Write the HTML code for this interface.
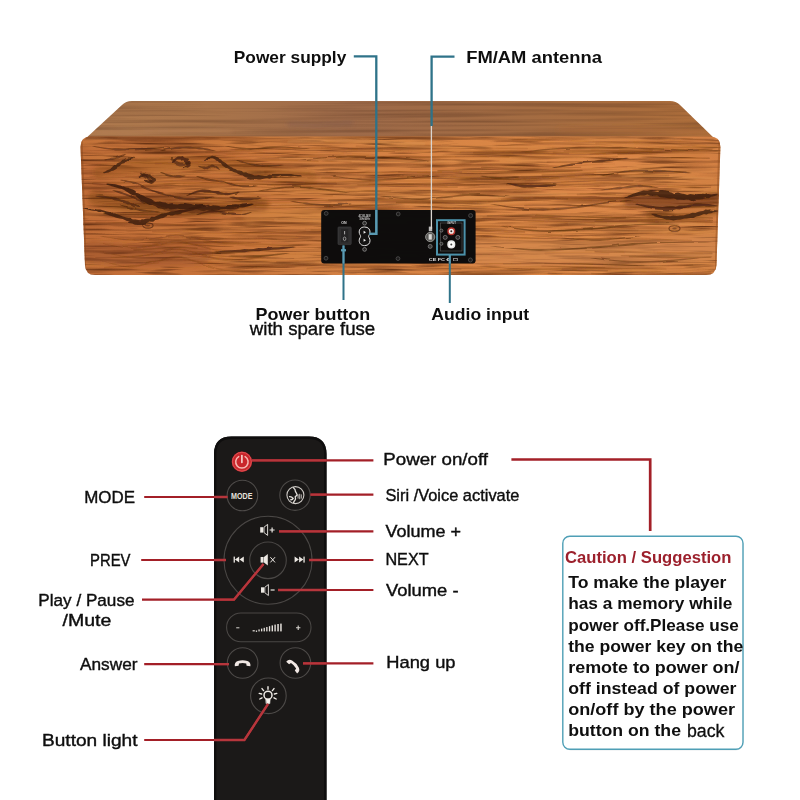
<!DOCTYPE html>
<html lang="en">
<head>
<meta charset="utf-8">
<title>Speaker back panel and remote control guide</title>
<style>
  html, body { margin: 0; padding: 0; background: #ffffff; }
  body { width: 800px; height: 800px; overflow: hidden; }
  svg { display: block; }
  text { font-family: "Liberation Sans", sans-serif; fill: #0e0e0e; }
  #remotelabels text { stroke: #0e0e0e; stroke-width: 0.4px; }
  .b { font-weight: bold; }
  .teal { stroke: #2f7389; fill: none; }
  .red { stroke: #a31f27; fill: none; }
</style>
</head>
<body>
<svg width="800" height="800" viewBox="0 0 800 800">
  <defs>
    <!-- WOOD-DEFS -->
    <linearGradient id="frontGrad" x1="0" y1="0" x2="1" y2="0">
      <stop offset="0" stop-color="#c06c37"/>
      <stop offset="0.2" stop-color="#c67239"/>
      <stop offset="0.36" stop-color="#d07e42"/>
      <stop offset="0.62" stop-color="#da8646"/>
      <stop offset="0.85" stop-color="#dc8849"/>
      <stop offset="1" stop-color="#d27f43"/>
    </linearGradient>
    <linearGradient id="topGrad" x1="0" y1="0" x2="1" y2="0">
      <stop offset="0" stop-color="#af7a4e"/>
      <stop offset="0.2" stop-color="#a9744a"/>
      <stop offset="0.42" stop-color="#9d6a49"/>
      <stop offset="0.7" stop-color="#a46c42"/>
      <stop offset="1" stop-color="#ae6e3a"/>
    </linearGradient>
    <filter id="grainFine" x="0" y="0" width="100%" height="100%" color-interpolation-filters="sRGB">
      <feTurbulence type="fractalNoise" baseFrequency="0.009 0.22" numOctaves="3" seed="11" result="n"/>
      <feColorMatrix in="n" type="matrix" values="0 0 0 0 0.38  0 0 0 0 0.18  0 0 0 0 0.07  1.6 0 0 0 -0.74" result="g"/>
      <feComposite in="g" in2="SourceGraphic" operator="in"/>
    </filter>
    <filter id="grainLight" x="0" y="0" width="100%" height="100%" color-interpolation-filters="sRGB">
      <feTurbulence type="fractalNoise" baseFrequency="0.008 0.06" numOctaves="2" seed="23" result="n"/>
      <feColorMatrix in="n" type="matrix" values="0 0 0 0 0.82  0 0 0 0 0.54  0 0 0 0 0.26  0 0.9 0 0 -0.38" result="g"/>
      <feComposite in="g" in2="SourceGraphic" operator="in"/>
    </filter>
    <filter id="grainStreak" x="0" y="0" width="100%" height="100%" color-interpolation-filters="sRGB">
      <feTurbulence type="fractalNoise" baseFrequency="0.022 0.42" numOctaves="2" seed="31" result="n"/>
      <feColorMatrix in="n" type="matrix" values="0 0 0 0 0.33  0 0 0 0 0.15  0 0 0 0 0.05  2.3 0 0 0 -1.24" result="g"/>
      <feComposite in="g" in2="SourceGraphic" operator="in"/>
    </filter>
    <filter id="grainTop" x="0" y="0" width="100%" height="100%" color-interpolation-filters="sRGB">
      <feTurbulence type="fractalNoise" baseFrequency="0.006 0.3" numOctaves="2" seed="5" result="n"/>
      <feColorMatrix in="n" type="matrix" values="0 0 0 0 0.34  0 0 0 0 0.20  0 0 0 0 0.12  0.9 0 0 0 -0.36" result="g"/>
      <feComposite in="g" in2="SourceGraphic" operator="in"/>
    </filter>
    <filter id="soft" x="-5%" y="-20%" width="110%" height="140%">
      <feGaussianBlur stdDeviation="0.7"/>
    </filter>
    <filter id="rough" x="-2%" y="-5%" width="104%" height="110%">
      <feTurbulence type="fractalNoise" baseFrequency="0.05 0.1" numOctaves="2" seed="3" result="t"/>
      <feDisplacementMap in="SourceGraphic" in2="t" scale="2.6" xChannelSelector="R" yChannelSelector="G" result="d"/>
      <feGaussianBlur in="d" stdDeviation="0.7"/>
    </filter>
    <filter id="softer" x="-5%" y="-30%" width="110%" height="160%">
      <feGaussianBlur stdDeviation="2.2"/>
    </filter>
    <clipPath id="panelClip">
      <rect x="321.2" y="210" width="154.4" height="53.6" rx="3"/>
    </clipPath>
    <clipPath id="remoteClip">
      <path d="M214 800 V454 Q214 436.5 231.5 436.5 H309 Q326.5 436.5 326.5 454 V800 Z"/>
    </clipPath>
    <clipPath id="frontClip">
      <path d="M90.5 136.5 H710 Q720.5 136.5 720.4 147 L716.5 265 Q716 275 706 275 H95 Q85.5 275 85 265 L80.5 147 Q80.5 136.5 90.5 136.5 Z"/>
    </clipPath>
    <clipPath id="topClip">
      <path d="M132 101 H670 Q676 101 680 105 L716 140 H84 L122 105 Q126 101 132 101 Z"/>
    </clipPath>
  </defs>

  <rect width="800" height="800" fill="#ffffff"/>

  <!-- ================= SPEAKER ================= -->
  <g id="speaker">
    <!-- top face -->
    <path d="M132 101 H670 Q676 101 680 105 L716 140 H84 L122 105 Q126 101 132 101 Z" fill="url(#topGrad)"/>
    <!-- front face -->
    <path d="M90.5 136.5 H710 Q720.5 136.5 720.4 147 L716.5 265 Q716 275 706 275 H95 Q85.5 275 85 265 L80.5 147 Q80.5 136.5 90.5 136.5 Z" fill="url(#frontGrad)"/>
    <!-- WOOD-GRAIN -->

    <g clip-path="url(#topClip)">
      <rect x="80" y="100" width="642" height="42" fill="#000" filter="url(#grainTop)"/>
      <g filter="url(#softer)" fill="none" stroke-linecap="round">
        <path d="M290 124 Q320 126 350 123" stroke="#7d5a48" stroke-width="6" opacity="0.4"/>
        <path d="M100 132 Q160 130 230 132" stroke="#b8825a" stroke-width="4" opacity="0.35"/>
        <path d="M560 130 Q620 128 700 132" stroke="#aa6a3a" stroke-width="5" opacity="0.4"/>
      </g>
      <path d="M84 136.4 H716" stroke="#8a5230" stroke-width="1" opacity="0.35" filter="url(#soft)"/>
    </g>
    <g clip-path="url(#frontClip)">
      <rect x="78" y="134" width="646" height="144" fill="#000" filter="url(#grainLight)"/>
      <rect x="78" y="134" width="646" height="144" fill="#000" filter="url(#grainFine)"/>
      <rect x="78" y="134" width="646" height="144" fill="#000" filter="url(#grainStreak)"/>
      <!-- broad tonal patches -->
      <g filter="url(#softer)" fill="none" stroke-linecap="round">
        <path d="M250 216 Q290 210 325 218" stroke="#cf843e" stroke-width="14" opacity="0.4"/>
        <path d="M92 252 Q140 258 200 254" stroke="#8a4726" stroke-width="22" opacity="0.4"/>
        <path d="M480 252 Q600 256 706 248" stroke="#cf8850" stroke-width="26" opacity="0.5"/>
        <path d="M500 150 Q600 146 700 152" stroke="#c67936" stroke-width="8" opacity="0.4"/>
        <path d="M95 198 Q150 212 215 209 Q240 206 262 205" stroke="#5a2d12" stroke-width="14" opacity="0.3"/>
        <path d="M100 172 Q170 160 230 164 Q270 174 310 177" stroke="#6a3615" stroke-width="14" opacity="0.2"/>
        <path d="M630 201 Q670 205 716 199" stroke="#5b2e13" stroke-width="12" opacity="0.5"/>
        <path d="M650 216 Q690 218 716 212" stroke="#63340f" stroke-width="6" opacity="0.35"/>
      </g>
<g fill="none" stroke-linecap="round" stroke-linejoin="round" filter="url(#soft)">
<path d="M96.0 222.2 L105.0 222.2 L114.0 222.4 L123.0 222.6 L132.0 222.9 L141.0 223.2 L150.0 223.6 L159.0 223.9 L168.0 224.3 L177.0 224.6 L186.0 225.0 L195.0 225.3" stroke="#6a3514" stroke-width="0.8" opacity="0.26"/>
<path d="M99.7 215.7 L108.7 215.7 L117.7 215.7 L126.7 215.8 L135.7 216.0 L144.7 216.2 L153.7 216.6 L162.7 217.0" stroke="#8a4a20" stroke-width="0.8" opacity="0.23"/>
<path d="M410.8 169.2 L419.8 169.1 L428.8 169.1 L437.8 169.1 L446.8 169.1 L455.8 169.2 L464.8 169.3 L473.8 169.5 L482.8 169.7 L491.8 169.9 L500.8 170.1 L509.8 170.3 L518.8 170.4 L527.8 170.5 L536.8 170.4 L545.8 170.3 L554.8 170.1 L563.8 169.8 L572.8 169.5 L581.8 169.1 L590.8 168.6 L599.8 168.1 L608.8 167.7 L617.8 167.3 L626.8 166.9" stroke="#5a2c10" stroke-width="0.5" opacity="0.28"/>
<path d="M202.1 174.3 L211.1 174.0 L220.1 173.8 L229.1 173.7 L238.1 173.7 L247.1 173.8 L256.1 174.0 L265.1 174.3 L274.1 174.7 L283.1 175.0 L292.1 175.4 L301.1 175.8 L310.1 176.2 L319.1 176.5 L328.1 176.8 L337.1 177.0 L346.1 177.1 L355.1 177.1 L364.1 177.1 L373.1 177.1 L382.1 177.0 L391.1 176.9 L400.1 176.8 L409.1 176.8" stroke="#5a2c10" stroke-width="0.6" opacity="0.18"/>
<path d="M532.4 217.9 L541.4 218.1 L550.4 218.4 L559.4 218.7 L568.4 219.0 L577.4 219.2 L586.4 219.5 L595.4 219.7 L604.4 219.8 L613.4 219.9 L622.4 219.9 L631.4 219.9 L640.4 219.8 L649.4 219.8 L658.4 219.7 L667.4 219.7 L676.4 219.7 L685.4 219.8 L694.4 219.9 L703.4 220.1 L712.4 220.4" stroke="#5a2c10" stroke-width="1.3" opacity="0.31"/>
<path d="M427.1 247.8 L436.1 247.9 L445.1 248.0 L454.1 248.3 L463.1 248.6 L472.1 248.9 L481.1 249.2 L490.1 249.5 L499.1 249.8 L508.1 250.0 L517.1 250.1 L526.1 250.2 L535.1 250.3 L544.1 250.3 L553.1 250.3 L562.1 250.2 L571.1 250.1 L580.1 250.1 L589.1 250.1 L598.1 250.2 L607.1 250.3 L616.1 250.4 L625.1 250.7 L634.1 250.9 L643.1 251.2 L652.1 251.5" stroke="#e0a05c" stroke-width="2.4" opacity="0.14"/>
<path d="M243.5 167.1 L252.5 167.0 L261.5 167.1 L270.5 167.2 L279.5 167.5 L288.5 167.8 L297.5 168.1 L306.5 168.5" stroke="#5a2c10" stroke-width="0.8" opacity="0.12"/>
<path d="M280.2 158.3 L289.2 158.4 L298.2 158.5 L307.2 158.8 L316.2 159.1 L325.2 159.5 L334.2 159.9 L343.2 160.3 L352.2 160.6 L361.2 161.0 L370.2 161.2 L379.2 161.4 L388.2 161.6 L397.2 161.6 L406.2 161.6 L415.2 161.6 L424.2 161.5 L433.2 161.4 L442.2 161.4 L451.2 161.3 L460.2 161.3 L469.2 161.3" stroke="#e0a05c" stroke-width="2.7" opacity="0.14"/>
<path d="M380.1 225.7 L389.1 225.6 L398.1 225.4 L407.1 225.1 L416.1 224.7 L425.1 224.3 L434.1 223.9 L443.1 223.4 L452.1 223.0 L461.1 222.6 L470.1 222.3 L479.1 222.0" stroke="#7a3f18" stroke-width="1.1" opacity="0.16"/>
<path d="M552.3 230.3 L561.3 230.5 L570.3 230.6 L579.3 230.7 L588.3 230.8 L597.3 230.8 L606.3 230.8 L615.3 230.7 L624.3 230.7 L633.3 230.6 L642.3 230.6 L651.3 230.7 L660.3 230.8 L669.3 230.9 L678.3 231.2 L687.3 231.4 L696.3 231.7 L705.3 232.0 L714.3 232.3" stroke="#5a2c10" stroke-width="0.8" opacity="0.11"/>
<path d="M591.5 149.9 L600.5 149.8 L609.5 149.6 L618.5 149.4 L627.5 149.1 L636.5 148.7 L645.5 148.2 L654.5 147.8 L663.5 147.3 L672.5 146.9 L681.5 146.5 L690.5 146.2 L699.5 145.9 L708.5 145.8 L717.5 145.7" stroke="#8a4a20" stroke-width="1.5" opacity="0.15"/>
<path d="M159.9 159.1 L168.9 159.1 L177.9 159.0 L186.9 158.9 L195.9 158.6 L204.9 158.3 L213.9 158.0 L222.9 157.6 L231.9 157.2 L240.9 156.8 L249.9 156.4 L258.9 156.1 L267.9 155.8 L276.9 155.7 L285.9 155.6 L294.9 155.7 L303.9 155.9 L312.9 156.1 L321.9 156.4 L330.9 156.8 L339.9 157.1 L348.9 157.5 L357.9 157.9" stroke="#8a4a20" stroke-width="1.3" opacity="0.26"/>
<path d="M638.5 185.9 L647.5 186.1 L656.5 186.4 L665.5 186.7 L674.5 186.9 L683.5 187.1 L692.5 187.2 L701.5 187.3 L710.5 187.4" stroke="#7a3f18" stroke-width="1.2" opacity="0.27"/>
<path d="M524.0 221.0 L533.0 221.3 L542.0 221.6 L551.0 221.9 L560.0 222.2 L569.0 222.4 L578.0 222.7 L587.0 222.9 L596.0 223.0 L605.0 223.1 L614.0 223.1 L623.0 223.1 L632.0 223.0 L641.0 223.0 L650.0 222.9 L659.0 222.9" stroke="#5a2c10" stroke-width="0.6" opacity="0.18"/>
<path d="M562.3 269.5 L571.3 269.7 L580.3 269.9 L589.3 270.2 L598.3 270.5 L607.3 270.8" stroke="#5a2c10" stroke-width="1.5" opacity="0.25"/>
<path d="M271.8 242.9 L280.8 243.1 L289.8 243.3 L298.8 243.5 L307.8 243.6 L316.8 243.6 L325.8 243.6 L334.8 243.5 L343.8 243.3 L352.8 243.1 L361.8 242.7 L370.8 242.3 L379.8 241.9" stroke="#5a2c10" stroke-width="0.7" opacity="0.10"/>
<path d="M507.2 269.4 L516.2 269.3 L525.2 269.3 L534.2 269.3 L543.2 269.3 L552.2 269.4 L561.2 269.6 L570.2 269.8 L579.2 270.0 L588.2 270.3 L597.2 270.6 L606.2 270.9 L615.2 271.1 L624.2 271.3 L633.2 271.5 L642.2 271.5 L651.2 271.5 L660.2 271.3" stroke="#7a3f18" stroke-width="0.6" opacity="0.24"/>
<path d="M507.5 160.6 L516.5 160.8 L525.5 161.0 L534.5 161.2 L543.5 161.4 L552.5 161.4 L561.5 161.4 L570.5 161.3 L579.5 161.1 L588.5 160.8 L597.5 160.5 L606.5 160.1 L615.5 159.6 L624.5 159.2 L633.5 158.7 L642.5 158.3 L651.5 157.9 L660.5 157.6 L669.5 157.4" stroke="#e0a05c" stroke-width="2.9" opacity="0.12"/>
<path d="M92.9 183.3 L101.9 183.3 L110.9 183.2 L119.9 183.0 L128.9 182.7 L137.9 182.4 L146.9 182.1 L155.9 181.7 L164.9 181.3 L173.9 180.9 L182.9 180.6 L191.9 180.3 L200.9 180.1 L209.9 180.0 L218.9 179.9 L227.9 180.0 L236.9 180.2 L245.9 180.5 L254.9 180.8 L263.9 181.2 L272.9 181.6 L281.9 182.0 L290.9 182.4 L299.9 182.7 L308.9 183.0 L317.9 183.2 L326.9 183.3 L335.9 183.4" stroke="#6a3514" stroke-width="1.7" opacity="0.28"/>
<path d="M398.6 172.0 L407.6 171.9 L416.6 171.9 L425.6 171.8 L434.6 171.8 L443.6 171.9 L452.6 172.0 L461.6 172.1" stroke="#7a3f18" stroke-width="1.5" opacity="0.28"/>
<path d="M347.2 155.3 L356.2 155.7 L365.2 156.0 L374.2 156.4 L383.2 156.6 L392.2 156.8 L401.2 156.9 L410.2 157.0 L419.2 157.0 L428.2 157.0 L437.2 156.9 L446.2 156.8 L455.2 156.8 L464.2 156.7 L473.2 156.7 L482.2 156.7 L491.2 156.8 L500.2 157.0 L509.2 157.2" stroke="#7a3f18" stroke-width="0.9" opacity="0.29"/>
<path d="M503.4 263.7 L512.4 263.7 L521.4 263.6 L530.4 263.6 L539.4 263.5 L548.4 263.5 L557.4 263.5 L566.4 263.6 L575.4 263.8 L584.4 263.9 L593.4 264.2 L602.4 264.5 L611.4 264.8 L620.4 265.1 L629.4 265.3 L638.4 265.5 L647.4 265.7 L656.4 265.8 L665.4 265.7 L674.4 265.6 L683.4 265.4 L692.4 265.1" stroke="#5a2c10" stroke-width="1.5" opacity="0.19"/>
<path d="M370.8 198.4 L379.8 198.5 L388.8 198.6 L397.8 198.8 L406.8 199.0 L415.8 199.2 L424.8 199.3 L433.8 199.4 L442.8 199.5" stroke="#7a3f18" stroke-width="0.8" opacity="0.17"/>
<path d="M86.0 215.8 L95.0 215.6 L104.0 215.4 L113.0 215.4 L122.0 215.4 L131.0 215.5 L140.0 215.8 L149.0 216.1 L158.0 216.5 L167.0 216.9 L176.0 217.3 L185.0 217.7 L194.0 218.1 L203.0 218.4 L212.0 218.6 L221.0 218.8 L230.0 218.9 L239.0 219.0 L248.0 219.0 L257.0 218.9 L266.0 218.8 L275.0 218.7 L284.0 218.6" stroke="#e0a05c" stroke-width="1.0" opacity="0.06"/>
<path d="M368.9 184.0 L377.9 183.9 L386.9 183.9 L395.9 183.8 L404.9 183.9 L413.9 183.9 L422.9 184.1 L431.9 184.2 L440.9 184.4 L449.9 184.6 L458.9 184.8 L467.9 185.0 L476.9 185.1" stroke="#8a4a20" stroke-width="1.2" opacity="0.22"/>
<path d="M345.9 172.2 L354.9 172.4 L363.9 172.4 L372.9 172.5 L381.9 172.4 L390.9 172.4 L399.9 172.3 L408.9 172.2 L417.9 172.1 L426.9 172.1 L435.9 172.1 L444.9 172.2 L453.9 172.3 L462.9 172.5 L471.9 172.7 L480.9 172.9" stroke="#8a4a20" stroke-width="0.6" opacity="0.24"/>
<path d="M488.8 201.9 L497.8 201.5 L506.8 201.0 L515.8 200.6 L524.8 200.2 L533.8 199.8 L542.8 199.6 L551.8 199.4 L560.8 199.3 L569.8 199.3 L578.8 199.4 L587.8 199.6 L596.8 199.9 L605.8 200.1 L614.8 200.4 L623.8 200.7 L632.8 201.0 L641.8 201.2 L650.8 201.3 L659.8 201.4 L668.8 201.5 L677.8 201.5" stroke="#5a2c10" stroke-width="1.9" opacity="0.12"/>
<path d="M143.0 245.5 L152.0 245.1 L161.0 244.6 L170.0 244.0 L179.0 243.7 L188.0 244.2 L197.0 244.6 L206.0 245.0 L215.0 245.4 L224.0 245.7 L233.0 246.1" stroke="#8a4a20" stroke-width="1.3" opacity="0.13"/>
<path d="M597.2 171.6 L606.2 171.2 L615.2 170.9 L624.2 170.6 L633.2 170.4 L642.2 170.3 L651.2 170.3 L660.2 170.4 L669.2 170.5 L678.2 170.8 L687.2 171.0 L696.2 171.3 L705.2 171.5 L714.2 171.8" stroke="#e0a05c" stroke-width="3.1" opacity="0.12"/>
<path d="M548.5 273.2 L557.5 273.4 L566.5 273.6 L575.5 273.9 L584.5 274.2 L593.5 274.5 L602.5 274.7 L611.5 275.0 L620.5 275.1 L629.5 275.2 L638.5 275.1 L647.5 275.0 L656.5 274.8 L665.5 274.5 L674.5 274.1 L683.5 273.7 L692.5 273.3 L701.5 272.8 L710.5 272.4" stroke="#8a4a20" stroke-width="1.8" opacity="0.29"/>
<path d="M564.5 201.3 L573.5 201.4 L582.5 201.6 L591.5 201.8 L600.5 202.1 L609.5 202.4 L618.5 202.6 L627.5 202.9 L636.5 203.1 L645.5 203.3 L654.5 203.4 L663.5 203.4 L672.5 203.4 L681.5 203.4 L690.5 203.3 L699.5 203.3 L708.5 203.3 L717.5 203.2" stroke="#8a4a20" stroke-width="0.7" opacity="0.10"/>
<path d="M470.7 178.6 L479.7 178.8 L488.7 179.0 L497.7 179.1 L506.7 179.1 L515.7 179.0 L524.7 178.9 L533.7 178.7 L542.7 178.3 L551.7 178.0 L560.7 177.5 L569.7 177.1 L578.7 176.6 L587.7 176.2 L596.7 175.8 L605.7 175.5 L614.7 175.2 L623.7 175.1 L632.7 175.0 L641.7 175.1 L650.7 175.2 L659.7 175.4 L668.7 175.6" stroke="#7a3f18" stroke-width="1.6" opacity="0.25"/>
<path d="M622.5 176.6 L631.5 176.6 L640.5 176.6 L649.5 176.8 L658.5 177.0 L667.5 177.2 L676.5 177.5 L685.5 177.8 L694.5 178.0 L703.5 178.2 L712.5 178.4" stroke="#e0a05c" stroke-width="2.3" opacity="0.15"/>
<path d="M362.6 218.7 L371.6 218.9 L380.6 219.0 L389.6 219.0 L398.6 219.0 L407.6 218.9 L416.6 218.6 L425.6 218.4 L434.6 218.0 L443.6 217.6 L452.6 217.1 L461.6 216.7 L470.6 216.2 L479.6 215.8 L488.6 215.5 L497.6 215.2 L506.6 215.1 L515.6 215.0 L524.6 215.0 L533.6 215.1 L542.6 215.3 L551.6 215.5 L560.6 215.8 L569.6 216.1 L578.6 216.4 L587.6 216.7" stroke="#e0a05c" stroke-width="1.3" opacity="0.17"/>
<path d="M414.0 164.6 L423.0 164.6 L432.0 164.5 L441.0 164.4 L450.0 164.4 L459.0 164.4 L468.0 164.5 L477.0 164.7 L486.0 164.8 L495.0 165.0 L504.0 165.2 L513.0 165.5 L522.0 165.6 L531.0 165.8 L540.0 165.8 L549.0 165.8 L558.0 165.7 L567.0 165.5 L576.0 165.2 L585.0 164.9 L594.0 164.5 L603.0 164.0" stroke="#7a3f18" stroke-width="0.8" opacity="0.13"/>
<path d="M104.2 214.2 L113.2 214.1 L122.2 214.1 L131.2 214.2 L140.2 214.4 L149.2 214.7 L158.2 215.0 L167.2 215.4" stroke="#5a2c10" stroke-width="1.4" opacity="0.22"/>
<path d="M481.6 167.4 L490.6 167.6 L499.6 167.8 L508.6 168.0 L517.6 168.1 L526.6 168.3 L535.6 168.3 L544.6 168.3 L553.6 168.1 L562.6 167.9 L571.6 167.6 L580.6 167.2" stroke="#5a2c10" stroke-width="1.1" opacity="0.25"/>
<path d="M604.1 264.5 L613.1 264.8 L622.1 265.1 L631.1 265.4 L640.1 265.6 L649.1 265.7" stroke="#e0a05c" stroke-width="2.5" opacity="0.12"/>
<path d="M364.3 212.2 L373.3 212.4 L382.3 212.5 L391.3 212.7 L400.3 212.8 L409.3 212.8 L418.3 212.7 L427.3 212.6 L436.3 212.4" stroke="#5a2c10" stroke-width="1.0" opacity="0.12"/>
<path d="M547.2 162.1 L556.2 162.1 L565.2 162.0 L574.2 161.9 L583.2 161.6 L592.2 161.3 L601.2 160.9 L610.2 160.5 L619.2 160.0 L628.2 159.5 L637.2 159.1 L646.2 158.7 L655.2 158.4 L664.2 158.2 L673.2 158.0 L682.2 158.0 L691.2 158.0 L700.2 158.1 L709.2 158.3" stroke="#6a3514" stroke-width="1.4" opacity="0.32"/>
<path d="M391.5 229.6 L400.5 229.3 L409.5 228.9 L418.5 228.4 L427.5 228.0 L436.5 227.5 L445.5 227.1 L454.5 226.7 L463.5 226.5 L472.5 226.3 L481.5 226.2 L490.5 226.2 L499.5 226.3 L508.5 226.4 L517.5 226.7 L526.5 227.0 L535.5 227.3 L544.5 227.6 L553.5 227.9 L562.5 228.1 L571.5 228.3 L580.5 228.4 L589.5 228.5 L598.5 228.5 L607.5 228.5 L616.5 228.5 L625.5 228.4 L634.5 228.4" stroke="#6a3514" stroke-width="0.6" opacity="0.29"/>
<path d="M168.7 237.3 L177.7 237.1 L186.7 237.5 L195.7 237.9 L204.7 238.1 L213.7 238.3 L222.7 238.4 L231.7 238.6 L240.7 238.7 L249.7 238.9 L258.7 239.0 L267.7 239.2 L276.7 239.4" stroke="#5a2c10" stroke-width="0.8" opacity="0.18"/>
<path d="M222.1 206.8 L231.1 207.1 L240.1 207.4 L249.1 207.6 L258.1 207.7 L267.1 207.8 L276.1 207.8 L285.1 207.7 L294.1 207.7 L303.1 207.6 L312.1 207.5 L321.1 207.4 L330.1 207.3 L339.1 207.4 L348.1 207.4 L357.1 207.5 L366.1 207.7 L375.1 207.8 L384.1 208.0 L393.1 208.2 L402.1 208.4 L411.1 208.5 L420.1 208.5 L429.1 208.5 L438.1 208.3 L447.1 208.1 L456.1 207.8" stroke="#6a3514" stroke-width="0.6" opacity="0.24"/>
<path d="M512.3 139.9 L521.3 139.9 L530.3 140.0 L539.3 140.1 L548.3 140.2 L557.3 140.4 L566.3 140.7 L575.3 140.9 L584.3 141.1 L593.3 141.3 L602.3 141.4 L611.3 141.5 L620.3 141.5 L629.3 141.3 L638.3 141.1 L647.3 140.8 L656.3 140.5 L665.3 140.1 L674.3 139.6 L683.3 139.1 L692.3 138.7" stroke="#8a4a20" stroke-width="0.9" opacity="0.26"/>
<path d="M144.4 211.9 L153.4 212.2 L162.4 212.5 L171.4 212.9 L180.4 213.3 L189.4 213.7 L198.4 214.1 L207.4 214.5 L216.4 214.8 L225.4 215.0 L234.4 215.2 L243.4 215.2 L252.4 215.3 L261.4 215.2 L270.4 215.1 L279.4 215.1 L288.4 214.9 L297.4 214.9 L306.4 214.8 L315.4 214.8 L324.4 214.8 L333.4 214.9 L342.4 215.1 L351.4 215.2 L360.4 215.4 L369.4 215.6 L378.4 215.7 L387.4 215.8" stroke="#e0a05c" stroke-width="2.6" opacity="0.07"/>
<path d="M390.3 189.1 L399.3 189.1 L408.3 189.3 L417.3 189.4 L426.3 189.6 L435.3 189.8 L444.3 190.0 L453.3 190.2 L462.3 190.3 L471.3 190.3 L480.3 190.3 L489.3 190.2 L498.3 190.0 L507.3 189.7 L516.3 189.3 L525.3 188.9" stroke="#6a3514" stroke-width="0.6" opacity="0.18"/>
<path d="M199.2 256.4 L208.2 257.2 L217.2 258.0 L226.2 258.7 L235.2 259.4 L244.2 259.9 L253.2 260.4 L262.2 260.7 L271.2 260.9 L280.2 260.9 L289.2 260.8 L298.2 260.6" stroke="#8a4a20" stroke-width="0.6" opacity="0.27"/>
<path d="M500.2 269.7 L509.2 269.6 L518.2 269.6 L527.2 269.6 L536.2 269.6 L545.2 269.6 L554.2 269.7 L563.2 269.9 L572.2 270.1 L581.2 270.4 L590.2 270.6 L599.2 270.9 L608.2 271.2 L617.2 271.5 L626.2 271.6 L635.2 271.7 L644.2 271.8 L653.2 271.7 L662.2 271.5 L671.2 271.3 L680.2 270.9 L689.2 270.5 L698.2 270.1 L707.2 269.6 L716.2 269.1" stroke="#7a3f18" stroke-width="0.8" opacity="0.14"/>
<path d="M95.8 257.5 L104.8 257.5 L113.8 257.3 L122.8 256.9 L131.8 256.4 L140.8 255.8 L149.8 255.0 L158.8 254.1 L167.8 253.2 L176.8 252.4 L185.8 253.2 L194.8 253.9 L203.8 254.7 L212.8 255.4 L221.8 256.1 L230.8 256.7 L239.8 257.3 L248.8 257.8 L257.8 258.2 L266.8 258.5 L275.8 258.6 L284.8 258.6 L293.8 258.5" stroke="#7a3f18" stroke-width="1.0" opacity="0.30"/>
<path d="M521.4 176.6 L530.4 176.5 L539.4 176.2 L548.4 175.9 L557.4 175.6 L566.4 175.1 L575.4 174.7 L584.4 174.2 L593.4 173.8" stroke="#8a4a20" stroke-width="1.7" opacity="0.29"/>
<path d="M539.9 185.9 L548.9 185.5 L557.9 185.0 L566.9 184.6 L575.9 184.2 L584.9 183.9 L593.9 183.7 L602.9 183.6 L611.9 183.6 L620.9 183.7 L629.9 183.9 L638.9 184.1 L647.9 184.3 L656.9 184.6 L665.9 184.9 L674.9 185.1 L683.9 185.4 L692.9 185.5 L701.9 185.6 L710.9 185.7" stroke="#5a2c10" stroke-width="0.8" opacity="0.25"/>
<path d="M621.5 255.6 L630.5 255.9 L639.5 256.2 L648.5 256.5 L657.5 256.8 L666.5 257.0 L675.5 257.1 L684.5 257.1 L693.5 257.1 L702.5 256.9 L711.5 256.7" stroke="#5a2c10" stroke-width="1.4" opacity="0.19"/>
<path d="M146.4 262.1 L155.4 261.1 L164.4 260.1 L173.4 259.0 L182.4 259.5 L191.4 260.5 L200.4 261.6 L209.4 262.5 L218.4 263.4 L227.4 264.2 L236.4 264.9 L245.4 265.4 L254.4 265.8 L263.4 266.1 L272.4 266.1 L281.4 266.0 L290.4 265.7 L299.4 265.4 L308.4 265.0 L317.4 264.5 L326.4 264.1 L335.4 263.7 L344.4 263.3 L353.4 262.9 L362.4 262.7 L371.4 262.5 L380.4 262.5 L389.4 262.5 L398.4 262.6" stroke="#6a3514" stroke-width="0.7" opacity="0.31"/>
<path d="M274.9 219.7 L283.9 219.7 L292.9 219.6 L301.9 219.6 L310.9 219.6 L319.9 219.7 L328.9 219.8 L337.9 220.0 L346.9 220.2 L355.9 220.3 L364.9 220.5 L373.9 220.6 L382.9 220.7 L391.9 220.6 L400.9 220.5 L409.9 220.4 L418.9 220.1 L427.9 219.7 L436.9 219.3 L445.9 218.9 L454.9 218.4 L463.9 218.0 L472.9 217.6 L481.9 217.2" stroke="#e0a05c" stroke-width="2.0" opacity="0.17"/>
<path d="M188.1 255.5 L197.1 256.3 L206.1 257.1 L215.1 257.9 L224.1 258.6 L233.1 259.3 L242.1 259.9" stroke="#7a3f18" stroke-width="1.1" opacity="0.21"/>
<path d="M121.0 187.8 L130.0 187.5 L139.0 187.1 L148.0 186.7 L157.0 186.3 L166.0 186.0 L175.0 185.7 L184.0 185.5 L193.0 185.3 L202.0 185.3 L211.0 185.4 L220.0 185.5 L229.0 185.8 L238.0 186.1 L247.0 186.5 L256.0 186.9 L265.0 187.3 L274.0 187.7 L283.0 188.0 L292.0 188.3 L301.0 188.5 L310.0 188.7" stroke="#5a2c10" stroke-width="1.0" opacity="0.17"/>
<path d="M454.1 208.1 L463.1 207.8 L472.1 207.3 L481.1 206.9 L490.1 206.4 L499.1 206.0 L508.1 205.6 L517.1 205.2 L526.1 205.0 L535.1 204.8 L544.1 204.7 L553.1 204.7 L562.1 204.8 L571.1 205.0" stroke="#8a4a20" stroke-width="1.5" opacity="0.22"/>
<path d="M585.8 229.8 L594.8 229.8 L603.8 229.8 L612.8 229.8 L621.8 229.7 L630.8 229.7 L639.8 229.6 L648.8 229.7 L657.8 229.7 L666.8 229.8 L675.8 230.0 L684.8 230.3 L693.8 230.6 L702.8 230.9 L711.8 231.2" stroke="#e0a05c" stroke-width="1.7" opacity="0.12"/>
<path d="M321.9 177.9 L330.9 178.1 L339.9 178.3 L348.9 178.4 L357.9 178.4 L366.9 178.3 L375.9 178.3 L384.9 178.2 L393.9 178.1 L402.9 178.0 L411.9 178.0 L420.9 178.0 L429.9 178.1 L438.9 178.2 L447.9 178.4 L456.9 178.6 L465.9 178.8 L474.9 179.0 L483.9 179.1 L492.9 179.3" stroke="#7a3f18" stroke-width="1.4" opacity="0.20"/>
<path d="M524.9 205.5 L533.9 205.3 L542.9 205.2 L551.9 205.2 L560.9 205.3 L569.9 205.5 L578.9 205.8 L587.9 206.0 L596.9 206.3 L605.9 206.6 L614.9 206.9 L623.9 207.1 L632.9 207.3 L641.9 207.4 L650.9 207.4 L659.9 207.4 L668.9 207.4 L677.9 207.4 L686.9 207.3 L695.9 207.3 L704.9 207.3 L713.9 207.3" stroke="#5a2c10" stroke-width="1.5" opacity="0.24"/>
<path d="M613.2 152.8 L622.2 152.5 L631.2 152.0 L640.2 151.6 L649.2 151.1 L658.2 150.7 L667.2 150.3 L676.2 149.9 L685.2 149.7 L694.2 149.5 L703.2 149.4 L712.2 149.4" stroke="#6a3514" stroke-width="0.9" opacity="0.28"/>
<path d="M347.1 172.5 L356.1 172.6 L365.1 172.7 L374.1 172.7 L383.1 172.7 L392.1 172.6 L401.1 172.5 L410.1 172.4 L419.1 172.4 L428.1 172.3 L437.1 172.4 L446.1 172.5 L455.1 172.6 L464.1 172.7 L473.1 172.9 L482.1 173.2 L491.1 173.4 L500.1 173.5 L509.1 173.7 L518.1 173.7 L527.1 173.7 L536.1 173.6 L545.1 173.4 L554.1 173.1 L563.1 172.7 L572.1 172.3" stroke="#7a3f18" stroke-width="0.6" opacity="0.19"/>
<path d="M296.3 236.4 L305.3 236.5 L314.3 236.7 L323.3 236.8 L332.3 236.9 L341.3 236.9 L350.3 236.9 L359.3 236.7 L368.3 236.5 L377.3 236.2 L386.3 235.8 L395.3 235.4 L404.3 234.9 L413.3 234.5 L422.3 234.0" stroke="#6a3514" stroke-width="0.7" opacity="0.25"/>
<path d="M204.1 242.3 L213.1 242.6 L222.1 242.9 L231.1 243.1 L240.1 243.4 L249.1 243.7 L258.1 243.9 L267.1 244.2 L276.1 244.4 L285.1 244.6 L294.1 244.8 L303.1 244.9 L312.1 244.9 L321.1 244.9 L330.1 244.8 L339.1 244.7 L348.1 244.4 L357.1 244.1 L366.1 243.7 L375.1 243.2 L384.1 242.8 L393.1 242.3 L402.1 241.9 L411.1 241.6 L420.1 241.3" stroke="#6a3514" stroke-width="1.5" opacity="0.20"/>
<path d="M529.2 198.7 L538.2 198.4 L547.2 198.1 L556.2 198.0 L565.2 197.9 L574.2 197.9 L583.2 198.0 L592.2 198.2 L601.2 198.5 L610.2 198.7 L619.2 199.0 L628.2 199.3 L637.2 199.6 L646.2 199.8 L655.2 199.9 L664.2 200.0 L673.2 200.1 L682.2 200.1 L691.2 200.0 L700.2 200.0 L709.2 199.9" stroke="#8a4a20" stroke-width="1.9" opacity="0.23"/>
<path d="M483.4 219.1 L492.4 218.9 L501.4 218.8 L510.4 218.8 L519.4 218.9 L528.4 219.0 L537.4 219.3 L546.4 219.5 L555.4 219.8 L564.4 220.1 L573.4 220.4 L582.4 220.7 L591.4 220.9 L600.4 221.0 L609.4 221.1 L618.4 221.1 L627.4 221.1 L636.4 221.1" stroke="#8a4a20" stroke-width="1.7" opacity="0.22"/>
<path d="M501.5 199.3 L510.5 198.9 L519.5 198.4 L528.5 198.0 L537.5 197.7 L546.5 197.4 L555.5 197.2 L564.5 197.1 L573.5 197.1 L582.5 197.1 L591.5 197.3 L600.5 197.5 L609.5 197.8 L618.5 198.1 L627.5 198.4 L636.5 198.6 L645.5 198.8 L654.5 199.0 L663.5 199.1 L672.5 199.2 L681.5 199.2 L690.5 199.2 L699.5 199.1 L708.5 199.1 L717.5 199.0" stroke="#7a3f18" stroke-width="0.9" opacity="0.27"/>
<path d="M125.2 176.6 L134.2 176.5 L143.2 176.3 L152.2 176.0 L161.2 175.6 L170.2 175.3 L179.2 174.9 L188.2 174.5 L197.2 174.1 L206.2 173.8 L215.2 173.5 L224.2 173.4 L233.2 173.3" stroke="#7a3f18" stroke-width="0.9" opacity="0.17"/>
<path d="M295.7 156.8 L304.7 157.0 L313.7 157.3 L322.7 157.6 L331.7 158.0 L340.7 158.4 L349.7 158.8 L358.7 159.1 L367.7 159.4 L376.7 159.7" stroke="#8a4a20" stroke-width="0.8" opacity="0.19"/>
<path d="M197.4 192.4 L206.4 192.6 L215.4 192.9 L224.4 193.3 L233.4 193.7 L242.4 194.1 L251.4 194.5 L260.4 194.9 L269.4 195.2 L278.4 195.4 L287.4 195.6 L296.4 195.7 L305.4 195.7 L314.4 195.7 L323.4 195.6 L332.4 195.5" stroke="#8a4a20" stroke-width="1.8" opacity="0.23"/>
<path d="M608.0 201.7 L617.0 202.0 L626.0 202.2 L635.0 202.5 L644.0 202.6 L653.0 202.8 L662.0 202.8 L671.0 202.8 L680.0 202.8 L689.0 202.8 L698.0 202.7 L707.0 202.7 L716.0 202.7" stroke="#7a3f18" stroke-width="1.0" opacity="0.30"/>
<path d="M234.3 204.7 L243.3 205.0 L252.3 205.2 L261.3 205.4 L270.3 205.5 L279.3 205.5 L288.3 205.4 L297.3 205.4 L306.3 205.3 L315.3 205.2 L324.3 205.1 L333.3 205.1 L342.3 205.0 L351.3 205.1 L360.3 205.2 L369.3 205.3 L378.3 205.5" stroke="#7a3f18" stroke-width="1.0" opacity="0.25"/>
<path d="M595.1 251.7 L604.1 251.8 L613.1 252.0 L622.1 252.2 L631.1 252.4 L640.1 252.7 L649.1 253.0 L658.1 253.3 L667.1 253.6 L676.1 253.8 L685.1 253.9 L694.1 253.9 L703.1 253.9 L712.1 253.7" stroke="#6a3514" stroke-width="1.2" opacity="0.30"/>
<path d="M321.2 147.9 L330.2 148.0 L339.2 148.3 L348.2 148.6 L357.2 149.0 L366.2 149.4 L375.2 149.8 L384.2 150.1 L393.2 150.4 L402.2 150.7 L411.2 150.9 L420.2 151.0 L429.2 151.0 L438.2 151.0 L447.2 151.0 L456.2 150.9 L465.2 150.8 L474.2 150.8 L483.2 150.7 L492.2 150.7 L501.2 150.8 L510.2 150.9 L519.2 151.1 L528.2 151.3 L537.2 151.5 L546.2 151.7" stroke="#8a4a20" stroke-width="0.8" opacity="0.16"/>
<path d="M506.8 184.5 L515.8 184.3 L524.8 184.0 L533.8 183.6 L542.8 183.2 L551.8 182.7 L560.8 182.3 L569.8 181.8 L578.8 181.4 L587.8 181.1 L596.8 180.8 L605.8 180.7 L614.8 180.6 L623.8 180.6 L632.8 180.7" stroke="#6a3514" stroke-width="1.6" opacity="0.28"/>
<path d="M500.0 201.7 L509.0 201.3 L518.0 200.8 L527.0 200.5 L536.0 200.2 L545.0 199.9 L554.0 199.8" stroke="#e0a05c" stroke-width="3.3" opacity="0.08"/>
<path d="M104.5 267.7 L113.5 267.2 L122.5 266.5 L131.5 265.8 L140.5 264.9 L149.5 263.9 L158.5 262.9" stroke="#7a3f18" stroke-width="0.8" opacity="0.28"/>
<path d="M455.6 156.5 L464.6 156.4 L473.6 156.4 L482.6 156.4 L491.6 156.5 L500.6 156.7 L509.6 156.9 L518.6 157.1 L527.6 157.3 L536.6 157.5 L545.6 157.7 L554.6 157.8 L563.6 157.9 L572.6 157.9 L581.6 157.7 L590.6 157.5 L599.6 157.3 L608.6 156.9 L617.6 156.5" stroke="#7a3f18" stroke-width="0.8" opacity="0.25"/>
<path d="M619.8 220.2 L628.8 220.2 L637.8 220.1 L646.8 220.1 L655.8 220.0 L664.8 220.0 L673.8 220.0 L682.8 220.1 L691.8 220.2 L700.8 220.4 L709.8 220.6" stroke="#6a3514" stroke-width="1.6" opacity="0.14"/>
<path d="M403.3 261.3 L412.3 261.5 L421.3 261.8 L430.3 262.1 L439.3 262.4 L448.3 262.7 L457.3 263.0 L466.3 263.3 L475.3 263.5 L484.3 263.6 L493.3 263.7 L502.3 263.7 L511.3 263.7 L520.3 263.6 L529.3 263.6 L538.3 263.5 L547.3 263.5 L556.3 263.5 L565.3 263.6 L574.3 263.7 L583.3 263.9 L592.3 264.2 L601.3 264.4 L610.3 264.7 L619.3 265.0 L628.3 265.3 L637.3 265.5" stroke="#7a3f18" stroke-width="1.0" opacity="0.31"/>
<path d="M513.0 153.5 L522.0 153.7 L531.0 153.9 L540.0 154.1 L549.0 154.3 L558.0 154.5 L567.0 154.6 L576.0 154.6 L585.0 154.6 L594.0 154.4 L603.0 154.2 L612.0 153.9 L621.0 153.5 L630.0 153.1 L639.0 152.6 L648.0 152.2 L657.0 151.7 L666.0 151.3 L675.0 151.0 L684.0 150.7 L693.0 150.6 L702.0 150.5 L711.0 150.5" stroke="#6a3514" stroke-width="1.3" opacity="0.13"/>
<path d="M321.0 186.4 L330.0 186.5 L339.0 186.5 L348.0 186.4 L357.0 186.3 L366.0 186.2 L375.0 186.2 L384.0 186.1 L393.0 186.1 L402.0 186.1 L411.0 186.2 L420.0 186.4 L429.0 186.5 L438.0 186.7 L447.0 186.9" stroke="#8a4a20" stroke-width="1.2" opacity="0.18"/>
<path d="M618.1 154.1 L627.1 153.6 L636.1 153.2 L645.1 152.7 L654.1 152.3 L663.1 151.9 L672.1 151.5 L681.1 151.3 L690.1 151.1 L699.1 151.0 L708.1 151.0 L717.1 151.1" stroke="#5a2c10" stroke-width="1.7" opacity="0.26"/>
<path d="M595.1 221.4 L604.1 221.5 L613.1 221.5 L622.1 221.5 L631.1 221.5 L640.1 221.5 L649.1 221.4 L658.1 221.4 L667.1 221.4 L676.1 221.4 L685.1 221.5 L694.1 221.7 L703.1 221.9 L712.1 222.2" stroke="#5a2c10" stroke-width="1.2" opacity="0.28"/>
<path d="M545.5 253.3 L554.5 253.2 L563.5 253.1 L572.5 253.1 L581.5 253.1 L590.5 253.2 L599.5 253.3 L608.5 253.5" stroke="#8a4a20" stroke-width="1.7" opacity="0.15"/>
<path d="M357.8 184.9 L366.8 184.8 L375.8 184.7 L384.8 184.7 L393.8 184.6 L402.8 184.7 L411.8 184.7 L420.8 184.9 L429.8 185.0 L438.8 185.2 L447.8 185.4 L456.8 185.6 L465.8 185.8 L474.8 185.9" stroke="#5a2c10" stroke-width="1.2" opacity="0.18"/>
<path d="M473.3 256.4 L482.3 256.7 L491.3 256.9 L500.3 257.0 L509.3 257.1 L518.3 257.2 L527.3 257.1 L536.3 257.1 L545.3 257.0 L554.3 257.0 L563.3 257.0 L572.3 257.0 L581.3 257.0" stroke="#e0a05c" stroke-width="0.9" opacity="0.17"/>
<path d="M354.6 237.0 L363.6 236.8 L372.6 236.5 L381.6 236.2 L390.6 235.8 L399.6 235.3 L408.6 234.9 L417.6 234.4 L426.6 234.0 L435.6 233.7 L444.6 233.4 L453.6 233.2 L462.6 233.2 L471.6 233.2 L480.6 233.3 L489.6 233.5 L498.6 233.7 L507.6 234.0 L516.6 234.3 L525.6 234.6 L534.6 234.9 L543.6 235.1 L552.6 235.3 L561.6 235.5" stroke="#6a3514" stroke-width="1.5" opacity="0.24"/>
<path d="M205.7 152.2 L214.7 152.0 L223.7 151.7 L232.7 151.3 L241.7 150.9 L250.7 150.5 L259.7 150.1 L268.7 149.7 L277.7 149.4 L286.7 149.2 L295.7 149.0 L304.7 149.0 L313.7 149.0 L322.7 149.2 L331.7 149.4 L340.7 149.7 L349.7 150.1 L358.7 150.4 L367.7 150.8 L376.7 151.2 L385.7 151.5 L394.7 151.8" stroke="#5a2c10" stroke-width="0.9" opacity="0.23"/>
<path d="M498.2 196.7 L507.2 196.3 L516.2 195.8 L525.2 195.3 L534.2 194.9 L543.2 194.5 L552.2 194.2 L561.2 194.0 L570.2 193.8 L579.2 193.8 L588.2 193.8 L597.2 193.9 L606.2 194.1 L615.2 194.4" stroke="#6a3514" stroke-width="1.5" opacity="0.16"/>
<path d="M258.1 236.2 L267.1 236.3 L276.1 236.4 L285.1 236.6 L294.1 236.7 L303.1 236.9 L312.1 237.1 L321.1 237.2 L330.1 237.3 L339.1 237.3 L348.1 237.3 L357.1 237.1 L366.1 236.9 L375.1 236.6 L384.1 236.2 L393.1 235.8 L402.1 235.4 L411.1 234.9 L420.1 234.5 L429.1 234.1 L438.1 233.8 L447.1 233.5 L456.1 233.4" stroke="#8a4a20" stroke-width="1.8" opacity="0.25"/>
<path d="M411.0 176.6 L420.0 176.6 L429.0 176.7 L438.0 176.7 L447.0 176.9 L456.0 177.1 L465.0 177.3 L474.0 177.5 L483.0 177.7 L492.0 177.8 L501.0 177.9 L510.0 177.9 L519.0 177.9 L528.0 177.7 L537.0 177.5 L546.0 177.2 L555.0 176.8 L564.0 176.4 L573.0 175.9 L582.0 175.4 L591.0 175.0 L600.0 174.6 L609.0 174.3 L618.0 174.0" stroke="#5a2c10" stroke-width="1.3" opacity="0.32"/>
<path d="M182.1 169.2 L191.1 168.8 L200.1 168.4 L209.1 168.1 L218.1 167.7 L227.1 167.4" stroke="#5a2c10" stroke-width="1.2" opacity="0.16"/>
<path d="M152.5 231.7 L161.5 231.8 L170.5 231.8 L179.5 231.9 L188.5 232.3 L197.5 232.6 L206.5 232.7 L215.5 232.9 L224.5 232.9 L233.5 233.0 L242.5 233.0 L251.5 233.0 L260.5 233.0 L269.5 233.1 L278.5 233.2 L287.5 233.3 L296.5 233.4 L305.5 233.6 L314.5 233.8 L323.5 233.9 L332.5 234.0 L341.5 234.1 L350.5 234.1 L359.5 234.0 L368.5 233.9 L377.5 233.6" stroke="#8a4a20" stroke-width="1.2" opacity="0.29"/>
<path d="M272.1 204.2 L281.1 204.2 L290.1 204.2 L299.1 204.1 L308.1 204.0 L317.1 203.9 L326.1 203.8 L335.1 203.8 L344.1 203.8 L353.1 203.8 L362.1 203.9 L371.1 204.0 L380.1 204.2 L389.1 204.3 L398.1 204.5 L407.1 204.7 L416.1 204.8 L425.1 204.9 L434.1 204.9 L443.1 204.9 L452.1 204.7 L461.1 204.4 L470.1 204.1 L479.1 203.7 L488.1 203.3 L497.1 202.8 L506.1 202.4 L515.1 202.0 L524.1 201.6" stroke="#e0a05c" stroke-width="1.5" opacity="0.16"/>
<path d="M356.4 146.2 L365.4 146.6 L374.4 146.9 L383.4 147.3 L392.4 147.7 L401.4 148.0 L410.4 148.2 L419.4 148.4 L428.4 148.5 L437.4 148.5 L446.4 148.5 L455.4 148.5 L464.4 148.4 L473.4 148.3 L482.4 148.3 L491.4 148.2 L500.4 148.2 L509.4 148.3 L518.4 148.4 L527.4 148.6" stroke="#5a2c10" stroke-width="1.5" opacity="0.13"/>
<path d="M220.5 150.8 L229.5 150.5 L238.5 150.1 L247.5 149.7 L256.5 149.3 L265.5 148.9 L274.5 148.6 L283.5 148.3 L292.5 148.1 L301.5 147.9 L310.5 147.9 L319.5 148.0 L328.5 148.2 L337.5 148.4 L346.5 148.8 L355.5 149.1 L364.5 149.5 L373.5 149.9 L382.5 150.3" stroke="#8a4a20" stroke-width="1.1" opacity="0.23"/>
<path d="M329.0 200.1 L338.0 200.0 L347.0 200.0 L356.0 200.0 L365.0 200.0 L374.0 200.1 L383.0 200.2 L392.0 200.4 L401.0 200.6 L410.0 200.8 L419.0 201.0 L428.0 201.1 L437.0 201.2 L446.0 201.2 L455.0 201.1 L464.0 200.9 L473.0 200.6 L482.0 200.3 L491.0 199.9 L500.0 199.5 L509.0 199.0 L518.0 198.6 L527.0 198.1 L536.0 197.8 L545.0 197.5 L554.0 197.2" stroke="#6a3514" stroke-width="1.9" opacity="0.17"/>
<path d="M197.9 262.3 L206.9 263.3 L215.9 264.3 L224.9 265.1 L233.9 265.8 L242.9 266.4 L251.9 266.8 L260.9 267.1 L269.9 267.2 L278.9 267.1 L287.9 266.8" stroke="#6a3514" stroke-width="1.4" opacity="0.13"/>
<path d="M310.0 158.0 L319.0 158.3 L328.0 158.7 L337.0 159.1 L346.0 159.5 L355.0 159.8 L364.0 160.2 L373.0 160.4 L382.0 160.6 L391.0 160.7 L400.0 160.8 L409.0 160.8 L418.0 160.8 L427.0 160.7 L436.0 160.6 L445.0 160.5 L454.0 160.5 L463.0 160.5 L472.0 160.5 L481.0 160.6 L490.0 160.8 L499.0 160.9" stroke="#5a2c10" stroke-width="1.2" opacity="0.11"/>
<path d="M335.3 234.8 L344.3 234.9 L353.3 234.8 L362.3 234.7 L371.3 234.5 L380.3 234.2 L389.3 233.9 L398.3 233.4 L407.3 233.0 L416.3 232.5 L425.3 232.1 L434.3 231.7 L443.3 231.4 L452.3 231.1 L461.3 230.9 L470.3 230.9 L479.3 230.9 L488.3 231.0 L497.3 231.2 L506.3 231.5 L515.3 231.8 L524.3 232.1" stroke="#7a3f18" stroke-width="1.8" opacity="0.27"/>
<path d="M385.9 196.7 L394.9 196.9 L403.9 197.1 L412.9 197.3 L421.9 197.4 L430.9 197.6 L439.9 197.7 L448.9 197.8 L457.9 197.8 L466.9 197.7 L475.9 197.5 L484.9 197.2 L493.9 196.8 L502.9 196.4 L511.9 196.0 L520.9 195.5 L529.9 195.1 L538.9 194.6 L547.9 194.3 L556.9 194.0 L565.9 193.8" stroke="#e0a05c" stroke-width="3.2" opacity="0.16"/>
<path d="M253.6 159.1 L262.6 158.9 L271.6 158.8 L280.6 158.7 L289.6 158.8 L298.6 159.0 L307.6 159.3 L316.6 159.6 L325.6 160.0 L334.6 160.4 L343.6 160.8 L352.6 161.1 L361.6 161.5 L370.6 161.7 L379.6 161.9 L388.6 162.0 L397.6 162.1 L406.6 162.1 L415.6 162.0 L424.6 161.9 L433.6 161.9 L442.6 161.8 L451.6 161.7 L460.6 161.7" stroke="#e0a05c" stroke-width="2.3" opacity="0.09"/>
<path d="M472.5 229.0 L481.5 229.0 L490.5 229.0 L499.5 229.2 L508.5 229.4 L517.5 229.7 L526.5 230.0 L535.5 230.3 L544.5 230.6 L553.5 230.9 L562.5 231.1 L571.5 231.2 L580.5 231.3 L589.5 231.3 L598.5 231.3 L607.5 231.3 L616.5 231.2 L625.5 231.2 L634.5 231.2 L643.5 231.2 L652.5 231.2 L661.5 231.4 L670.5 231.5 L679.5 231.8 L688.5 232.1 L697.5 232.4 L706.5 232.7 L715.5 233.0" stroke="#e0a05c" stroke-width="2.2" opacity="0.11"/>
<path d="M323.1 141.9 L332.1 141.9 L341.1 142.0 L350.1 142.2 L359.1 142.5 L368.1 142.8 L377.1 143.2 L386.1 143.6 L395.1 144.0 L404.1 144.3 L413.1 144.6 L422.1 144.8 L431.1 145.0 L440.1 145.1" stroke="#6a3514" stroke-width="0.9" opacity="0.12"/>
<path d="M457.1 273.1 L466.1 273.2 L475.1 273.2 L484.1 273.2 L493.1 273.2 L502.1 273.1 L511.1 273.0 L520.1 273.0 L529.1 273.0 L538.1 273.1 L547.1 273.2 L556.1 273.4" stroke="#8a4a20" stroke-width="0.6" opacity="0.27"/>
<path d="M183.3 256.9 L192.3 257.8 L201.3 258.8 L210.3 259.6 L219.3 260.4 L228.3 261.2 L237.3 261.8 L246.3 262.4 L255.3 262.8 L264.3 263.1 L273.3 263.2 L282.3 263.1 L291.3 262.9 L300.3 262.6 L309.3 262.2 L318.3 261.8 L327.3 261.4 L336.3 260.9 L345.3 260.5 L354.3 260.1" stroke="#e0a05c" stroke-width="2.5" opacity="0.11"/>
<path d="M268.0 185.0 L277.0 185.4 L286.0 185.7 L295.0 186.0 L304.0 186.3 L313.0 186.5 L322.0 186.6 L331.0 186.6 L340.0 186.6 L349.0 186.5 L358.0 186.4 L367.0 186.3 L376.0 186.3 L385.0 186.2 L394.0 186.2 L403.0 186.3 L412.0 186.3 L421.0 186.5 L430.0 186.7 L439.0 186.9 L448.0 187.1 L457.0 187.2" stroke="#5a2c10" stroke-width="1.7" opacity="0.17"/>
<path d="M305.5 228.7 L314.5 228.9 L323.5 229.0 L332.5 229.2 L341.5 229.3 L350.5 229.4 L359.5 229.5 L368.5 229.4 L377.5 229.3 L386.5 229.1 L395.5 228.8 L404.5 228.5 L413.5 228.1 L422.5 227.6 L431.5 227.2 L440.5 226.7 L449.5 226.3 L458.5 226.0 L467.5 225.7 L476.5 225.5 L485.5 225.5 L494.5 225.5 L503.5 225.6 L512.5 225.8" stroke="#6a3514" stroke-width="0.6" opacity="0.12"/>
<path d="M307.5 268.6 L316.5 268.1 L325.5 267.7 L334.5 267.3 L343.5 267.0 L352.5 266.8 L361.5 266.6 L370.5 266.6 L379.5 266.7 L388.5 266.8 L397.5 267.0 L406.5 267.3 L415.5 267.6 L424.5 268.0 L433.5 268.3 L442.5 268.6 L451.5 268.8 L460.5 269.0" stroke="#8a4a20" stroke-width="1.9" opacity="0.24"/>
<path d="M371.3 145.1 L380.3 145.5 L389.3 145.9 L398.3 146.2 L407.3 146.5 L416.3 146.8 L425.3 146.9 L434.3 147.0 L443.3 147.0 L452.3 147.0 L461.3 146.9 L470.3 146.9 L479.3 146.8 L488.3 146.7 L497.3 146.7 L506.3 146.8 L515.3 146.8 L524.3 147.0 L533.3 147.1 L542.3 147.3 L551.3 147.6" stroke="#e0a05c" stroke-width="2.2" opacity="0.11"/>
<path d="M155.1 175.0 L164.1 174.6 L173.1 174.3 L182.1 173.9 L191.1 173.5 L200.1 173.1 L209.1 172.8 L218.1 172.5 L227.1 172.4 L236.1 172.3 L245.1 172.3 L254.1 172.5 L263.1 172.7" stroke="#e0a05c" stroke-width="3.1" opacity="0.11"/>
<path d="M528.0 221.5 L537.0 221.8 L546.0 222.1 L555.0 222.4 L564.0 222.7 L573.0 222.9 L582.0 223.1 L591.0 223.3 L600.0 223.4 L609.0 223.4 L618.0 223.4 L627.0 223.4 L636.0 223.4 L645.0 223.3 L654.0 223.3 L663.0 223.3 L672.0 223.3 L681.0 223.4 L690.0 223.6 L699.0 223.8 L708.0 224.1 L717.0 224.4" stroke="#7a3f18" stroke-width="0.9" opacity="0.10"/>
<path d="M591.4 273.4 L600.4 273.7 L609.4 273.9 L618.4 274.1 L627.4 274.2 L636.4 274.2 L645.4 274.2 L654.4 274.0 L663.4 273.7 L672.4 273.4 L681.4 273.0 L690.4 272.6 L699.4 272.1 L708.4 271.6 L717.4 271.2" stroke="#5a2c10" stroke-width="0.7" opacity="0.28"/>
<path d="M234.6 207.7 L243.6 208.0 L252.6 208.1 L261.6 208.2 L270.6 208.3 L279.6 208.2 L288.6 208.2 L297.6 208.1 L306.6 208.0 L315.6 207.9 L324.6 207.8 L333.6 207.8 L342.6 207.8 L351.6 207.9 L360.6 208.1 L369.6 208.2 L378.6 208.4 L387.6 208.6 L396.6 208.8 L405.6 208.9 L414.6 209.0 L423.6 209.0 L432.6 208.9 L441.6 208.7 L450.6 208.4 L459.6 208.1" stroke="#8a4a20" stroke-width="1.9" opacity="0.15"/>
<path d="M416.5 165.3 L425.5 165.2 L434.5 165.1 L443.5 165.1 L452.5 165.1 L461.5 165.1 L470.5 165.2 L479.5 165.4 L488.5 165.6 L497.5 165.8 L506.5 166.0 L515.5 166.2 L524.5 166.3 L533.5 166.4 L542.5 166.5 L551.5 166.4 L560.5 166.3 L569.5 166.0 L578.5 165.7 L587.5 165.3 L596.5 164.9 L605.5 164.5 L614.5 164.0" stroke="#8a4a20" stroke-width="0.7" opacity="0.12"/>
<path d="M521.5 185.6 L530.5 185.3 L539.5 184.8 L548.5 184.4 L557.5 183.9 L566.5 183.5 L575.5 183.1 L584.5 182.8 L593.5 182.5 L602.5 182.4 L611.5 182.3 L620.5 182.4" stroke="#8a4a20" stroke-width="0.5" opacity="0.26"/>
<path d="M331.2 255.4 L340.2 254.9 L349.2 254.5 L358.2 254.0 L367.2 253.6 L376.2 253.2 L385.2 252.9 L394.2 252.7 L403.2 252.6 L412.2 252.6 L421.2 252.6 L430.2 252.8 L439.2 253.0 L448.2 253.3 L457.2 253.6 L466.2 254.0 L475.2 254.3" stroke="#5a2c10" stroke-width="1.0" opacity="0.27"/>
<path d="M629.3 256.7 L638.3 257.0 L647.3 257.2 L656.3 257.5 L665.3 257.7 L674.3 257.8 L683.3 257.8 L692.3 257.8 L701.3 257.6 L710.3 257.3" stroke="#5a2c10" stroke-width="1.0" opacity="0.29"/>
<path d="M475.5 236.7 L484.5 236.9 L493.5 237.1 L502.5 237.4 L511.5 237.8 L520.5 238.1 L529.5 238.3 L538.5 238.6 L547.5 238.7 L556.5 238.8 L565.5 238.9 L574.5 238.9 L583.5 238.9 L592.5 238.8 L601.5 238.7 L610.5 238.7 L619.5 238.7 L628.5 238.8 L637.5 238.9 L646.5 239.0 L655.5 239.2 L664.5 239.5 L673.5 239.8 L682.5 240.1 L691.5 240.4" stroke="#7a3f18" stroke-width="1.0" opacity="0.25"/>
<path d="M102.7 204.1 L111.7 203.7 L120.7 203.4 L129.7 203.1 L138.7 203.0 L147.7 202.9 L156.7 202.9 L165.7 203.0 L174.7 203.3 L183.7 203.6 L192.7 203.9 L201.7 204.3 L210.7 204.7 L219.7 205.1 L228.7 205.5 L237.7 205.8 L246.7 206.1 L255.7 206.3" stroke="#8a4a20" stroke-width="1.3" opacity="0.29"/>
<path d="M590.0 154.2 L599.0 154.0 L608.0 153.8 L617.0 153.4 L626.0 153.0 L635.0 152.6" stroke="#6a3514" stroke-width="0.7" opacity="0.29"/>
<path d="M622.8 201.0 L631.8 201.3 L640.8 201.5 L649.8 201.7 L658.8 201.8 L667.8 201.8 L676.8 201.8 L685.8 201.8 L694.8 201.7 L703.8 201.7 L712.8 201.7" stroke="#8a4a20" stroke-width="1.5" opacity="0.24"/>
<path d="M431.8 265.9 L440.8 266.2 L449.8 266.5 L458.8 266.7 L467.8 266.9 L476.8 267.0 L485.8 267.1 L494.8 267.1 L503.8 267.1 L512.8 267.0 L521.8 267.0 L530.8 266.9 L539.8 266.9 L548.8 266.9 L557.8 267.0 L566.8 267.2 L575.8 267.4 L584.8 267.6 L593.8 267.9 L602.8 268.2 L611.8 268.5 L620.8 268.7 L629.8 268.9 L638.8 269.1 L647.8 269.1 L656.8 269.1 L665.8 269.0" stroke="#7a3f18" stroke-width="1.2" opacity="0.22"/>
<path d="M595.9 223.5 L604.9 223.6 L613.9 223.6 L622.9 223.6 L631.9 223.5 L640.9 223.5 L649.9 223.4 L658.9 223.4 L667.9 223.4 L676.9 223.5 L685.9 223.7 L694.9 223.9 L703.9 224.1 L712.9 224.4" stroke="#e0a05c" stroke-width="2.8" opacity="0.11"/>
<path d="M568.9 223.3 L577.9 223.6 L586.9 223.8 L595.9 223.9 L604.9 223.9 L613.9 223.9 L622.9 223.9 L631.9 223.9 L640.9 223.8 L649.9 223.8 L658.9 223.8 L667.9 223.8 L676.9 223.9 L685.9 224.0 L694.9 224.2 L703.9 224.5" stroke="#e0a05c" stroke-width="2.6" opacity="0.16"/>
<path d="M245.7 245.9 L254.7 246.3 L263.7 246.6 L272.7 246.8 L281.7 247.0 L290.7 247.2 L299.7 247.3 L308.7 247.3 L317.7 247.3 L326.7 247.1 L335.7 246.9 L344.7 246.6 L353.7 246.3 L362.7 245.9 L371.7 245.4" stroke="#7a3f18" stroke-width="0.7" opacity="0.22"/>
<path d="M126.1 162.6 L135.1 162.7 L144.1 162.7 L153.1 162.7 L162.1 162.7 L171.1 162.6 L180.1 162.4 L189.1 162.1 L198.1 161.8 L207.1 161.4 L216.1 161.0 L225.1 160.6 L234.1 160.2 L243.1 159.9 L252.1 159.6 L261.1 159.4 L270.1 159.3 L279.1 159.3 L288.1 159.4 L297.1 159.6 L306.1 159.8 L315.1 160.2 L324.1 160.5 L333.1 160.9 L342.1 161.3 L351.1 161.7" stroke="#7a3f18" stroke-width="1.4" opacity="0.15"/>
<path d="M438.0 170.7 L447.0 170.7 L456.0 170.8 L465.0 171.0 L474.0 171.2 L483.0 171.4 L492.0 171.6 L501.0 171.8 L510.0 171.9 L519.0 172.0 L528.0 172.0 L537.0 172.0 L546.0 171.8 L555.0 171.5 L564.0 171.2 L573.0 170.8 L582.0 170.4" stroke="#5a2c10" stroke-width="1.4" opacity="0.30"/>
<path d="M170.2 229.3 L179.2 229.5 L188.2 229.9 L197.2 230.1 L206.2 230.3 L215.2 230.4 L224.2 230.5 L233.2 230.5 L242.2 230.5 L251.2 230.4 L260.2 230.4 L269.2 230.4 L278.2 230.5 L287.2 230.5 L296.2 230.7 L305.2 230.8" stroke="#8a4a20" stroke-width="1.0" opacity="0.23"/>
<path d="M336.9 233.1 L345.9 233.2 L354.9 233.2 L363.9 233.1 L372.9 232.9 L381.9 232.6 L390.9 232.3 L399.9 231.9 L408.9 231.5 L417.9 231.0 L426.9 230.6 L435.9 230.1 L444.9 229.8" stroke="#e0a05c" stroke-width="3.4" opacity="0.16"/>
<path d="M282.3 190.5 L291.3 190.8 L300.3 191.0 L309.3 191.1 L318.3 191.1 L327.3 191.1 L336.3 191.0 L345.3 190.9 L354.3 190.8 L363.3 190.7 L372.3 190.7 L381.3 190.7 L390.3 190.7" stroke="#8a4a20" stroke-width="1.5" opacity="0.10"/>
<path d="M397.8 176.4 L406.8 176.4 L415.8 176.3 L424.8 176.3 L433.8 176.4 L442.8 176.5 L451.8 176.7 L460.8 176.9 L469.8 177.1 L478.8 177.3 L487.8 177.5 L496.8 177.6 L505.8 177.7 L514.8 177.7 L523.8 177.6 L532.8 177.4 L541.8 177.1 L550.8 176.7 L559.8 176.3 L568.8 175.9 L577.8 175.4 L586.8 175.0" stroke="#8a4a20" stroke-width="1.5" opacity="0.11"/>
<path d="M585.8 250.6 L594.8 250.6 L603.8 250.7 L612.8 250.9 L621.8 251.1 L630.8 251.3 L639.8 251.6 L648.8 251.9 L657.8 252.2 L666.8 252.5 L675.8 252.7 L684.8 252.8 L693.8 252.9 L702.8 252.9 L711.8 252.8" stroke="#7a3f18" stroke-width="0.8" opacity="0.28"/>
<path d="M460.2 221.0 L469.2 220.6 L478.2 220.3 L487.2 220.1 L496.2 219.9 L505.2 219.9 L514.2 219.9 L523.2 220.1 L532.2 220.3 L541.2 220.6 L550.2 220.9 L559.2 221.2 L568.2 221.5 L577.2 221.7 L586.2 221.9 L595.2 222.1 L604.2 222.2 L613.2 222.2 L622.2 222.2 L631.2 222.2 L640.2 222.1 L649.2 222.1 L658.2 222.0" stroke="#6a3514" stroke-width="1.4" opacity="0.28"/>
<path d="M328.0 181.2 L337.0 181.3 L346.0 181.3 L355.0 181.3 L364.0 181.3 L373.0 181.2 L382.0 181.1 L391.0 181.0 L400.0 181.0 L409.0 181.0 L418.0 181.0 L427.0 181.1 L436.0 181.3 L445.0 181.4 L454.0 181.6 L463.0 181.8 L472.0 182.0 L481.0 182.2 L490.0 182.3 L499.0 182.3" stroke="#8a4a20" stroke-width="1.5" opacity="0.12"/>
<path d="M155.7 163.5 L164.7 163.4 L173.7 163.2 L182.7 163.0 L191.7 162.7 L200.7 162.4 L209.7 162.0 L218.7 161.6 L227.7 161.2 L236.7 160.8 L245.7 160.5 L254.7 160.2 L263.7 160.1 L272.7 160.0 L281.7 160.1 L290.7 160.2 L299.7 160.5 L308.7 160.8 L317.7 161.1" stroke="#7a3f18" stroke-width="1.9" opacity="0.22"/>
<path d="M542.2 175.0 L551.2 174.7 L560.2 174.3 L569.2 173.9 L578.2 173.4 L587.2 172.9 L596.2 172.5 L605.2 172.1 L614.2 171.8 L623.2 171.5 L632.2 171.3 L641.2 171.2 L650.2 171.3 L659.2 171.4 L668.2 171.5 L677.2 171.8 L686.2 172.0" stroke="#6a3514" stroke-width="1.6" opacity="0.26"/>
<path d="M124.0 200.0 L133.0 199.7 L142.0 199.5 L151.0 199.3 L160.0 199.3 L169.0 199.3 L178.0 199.5 L187.0 199.7 L196.0 200.0 L205.0 200.4 L214.0 200.8 L223.0 201.2 L232.0 201.6 L241.0 202.0 L250.0 202.3 L259.0 202.5 L268.0 202.7 L277.0 202.8 L286.0 202.8 L295.0 202.8 L304.0 202.7 L313.0 202.6 L322.0 202.5 L331.0 202.4" stroke="#8a4a20" stroke-width="0.8" opacity="0.25"/>
<path d="M531.0 268.7 L540.0 268.7 L549.0 268.7 L558.0 268.9 L567.0 269.0 L576.0 269.3 L585.0 269.5 L594.0 269.8 L603.0 270.1 L612.0 270.4 L621.0 270.6 L630.0 270.8 L639.0 270.9 L648.0 270.9 L657.0 270.8" stroke="#8a4a20" stroke-width="1.6" opacity="0.10"/>
<path d="M499.9 189.8 L508.9 189.5 L517.9 189.2 L526.9 188.8 L535.9 188.3 L544.9 187.8 L553.9 187.4 L562.9 187.0 L571.9 186.7 L580.9 186.4 L589.9 186.2 L598.9 186.2" stroke="#7a3f18" stroke-width="1.0" opacity="0.24"/>
<path d="M427.7 204.0 L436.7 204.0 L445.7 203.9 L454.7 203.7 L463.7 203.5 L472.7 203.2 L481.7 202.8 L490.7 202.3 L499.7 201.9 L508.7 201.4 L517.7 201.0 L526.7 200.6 L535.7 200.3 L544.7 200.1 L553.7 199.9 L562.7 199.9 L571.7 200.0 L580.7 200.1 L589.7 200.3 L598.7 200.6 L607.7 200.9 L616.7 201.1 L625.7 201.4 L634.7 201.7 L643.7 201.9 L652.7 202.0 L661.7 202.1 L670.7 202.1" stroke="#8a4a20" stroke-width="1.0" opacity="0.23"/>
<path d="M250.6 261.7 L259.6 262.0 L268.6 262.2 L277.6 262.3 L286.6 262.2 L295.6 262.0 L304.6 261.6 L313.6 261.3 L322.6 260.9 L331.6 260.4 L340.6 260.0 L349.6 259.5 L358.6 259.2 L367.6 258.9 L376.6 258.6 L385.6 258.5" stroke="#8a4a20" stroke-width="0.7" opacity="0.31"/>
<path d="M213.0 154.8 L222.0 154.5 L231.0 154.1 L240.0 153.7 L249.0 153.3 L258.0 152.9 L267.0 152.6 L276.0 152.3 L285.0 152.1 L294.0 152.1 L303.0 152.1 L312.0 152.2 L321.0 152.4 L330.0 152.7 L339.0 153.1 L348.0 153.5 L357.0 153.9 L366.0 154.2 L375.0 154.6" stroke="#8a4a20" stroke-width="1.0" opacity="0.18"/>
<path d="M487.4 215.9 L496.4 215.6 L505.4 215.5 L514.4 215.4 L523.4 215.4 L532.4 215.5 L541.4 215.7 L550.4 216.0 L559.4 216.3 L568.4 216.6 L577.4 216.8 L586.4 217.1 L595.4 217.3 L604.4 217.5 L613.4 217.6 L622.4 217.7 L631.4 217.7 L640.4 217.7 L649.4 217.6 L658.4 217.6 L667.4 217.5 L676.4 217.5 L685.4 217.6 L694.4 217.6 L703.4 217.8 L712.4 218.0" stroke="#5a2c10" stroke-width="1.4" opacity="0.28"/>
<path d="M288.8 141.8 L297.8 141.4 L306.8 141.2 L315.8 141.0 L324.8 140.9 L333.8 140.9 L342.8 141.0 L351.8 141.2 L360.8 141.5 L369.8 141.8 L378.8 142.2 L387.8 142.6 L396.8 143.0 L405.8 143.3 L414.8 143.6 L423.8 143.8" stroke="#e0a05c" stroke-width="3.3" opacity="0.16"/>
<path d="M385.8 231.9 L394.8 231.6 L403.8 231.2 L412.8 230.7 L421.8 230.3 L430.8 229.8 L439.8 229.4 L448.8 229.1 L457.8 228.8 L466.8 228.6 L475.8 228.6 L484.8 228.6 L493.8 228.7 L502.8 228.9 L511.8 229.1 L520.8 229.4 L529.8 229.7 L538.8 230.0 L547.8 230.3 L556.8 230.5 L565.8 230.7 L574.8 230.8 L583.8 230.9 L592.8 230.9 L601.8 230.9 L610.8 230.9 L619.8 230.8 L628.8 230.8 L637.8 230.8" stroke="#6a3514" stroke-width="1.0" opacity="0.19"/>
<path d="M541.9 266.2 L550.9 266.2 L559.9 266.3 L568.9 266.5 L577.9 266.7 L586.9 266.9 L595.9 267.2 L604.9 267.5" stroke="#6a3514" stroke-width="0.8" opacity="0.24"/>
<path d="M217.9 243.8 L226.9 244.1 L235.9 244.4 L244.9 244.7 L253.9 245.0 L262.9 245.2 L271.9 245.5 L280.9 245.7 L289.9 245.9" stroke="#7a3f18" stroke-width="1.3" opacity="0.12"/>
<path d="M535.7 215.5 L544.7 215.7 L553.7 215.9 L562.7 216.2 L571.7 216.5 L580.7 216.8 L589.7 217.1 L598.7 217.3 L607.7 217.4 L616.7 217.5 L625.7 217.6" stroke="#5a2c10" stroke-width="1.6" opacity="0.27"/>
<path d="M162.7 251.2 L171.7 250.3 L180.7 250.2 L189.7 250.9 L198.7 251.5 L207.7 252.1 L216.7 252.7 L225.7 253.3 L234.7 253.8" stroke="#6a3514" stroke-width="0.9" opacity="0.14"/>
<path d="M281.9 154.2 L290.9 154.2 L299.9 154.2 L308.9 154.4 L317.9 154.6 L326.9 154.9 L335.9 155.3 L344.9 155.7 L353.9 156.1 L362.9 156.5 L371.9 156.8 L380.9 157.1 L389.9 157.3 L398.9 157.4 L407.9 157.5 L416.9 157.5 L425.9 157.4 L434.9 157.4 L443.9 157.3 L452.9 157.2 L461.9 157.2 L470.9 157.2 L479.9 157.2 L488.9 157.3" stroke="#7a3f18" stroke-width="1.3" opacity="0.10"/>
<path d="M375.6 239.0 L384.6 238.6 L393.6 238.1 L402.6 237.7 L411.6 237.2 L420.6 236.8 L429.6 236.5 L438.6 236.3 L447.6 236.1 L456.6 236.0 L465.6 236.1 L474.6 236.2 L483.6 236.4 L492.6 236.7 L501.6 237.0 L510.6 237.3 L519.6 237.6 L528.6 237.9 L537.6 238.1 L546.6 238.3 L555.6 238.4 L564.6 238.5 L573.6 238.5" stroke="#6a3514" stroke-width="1.2" opacity="0.27"/>
<path d="M205.6 198.0 L214.6 198.3 L223.6 198.7 L232.6 199.2 L241.6 199.5 L250.6 199.9 L259.6 200.2 L268.6 200.4 L277.6 200.5 L286.6 200.6 L295.6 200.6 L304.6 200.6 L313.6 200.5 L322.6 200.4 L331.6 200.3 L340.6 200.2 L349.6 200.2 L358.6 200.2 L367.6 200.2 L376.6 200.4" stroke="#5a2c10" stroke-width="1.5" opacity="0.30"/>
<path d="M619.9 199.3 L628.9 199.6 L637.9 199.8 L646.9 200.0 L655.9 200.2 L664.9 200.3 L673.9 200.3" stroke="#8a4a20" stroke-width="1.2" opacity="0.19"/>
<path d="M329.5 236.1 L338.5 236.1 L347.5 236.1 L356.5 236.0 L365.5 235.8 L374.5 235.5 L383.5 235.2 L392.5 234.8 L401.5 234.4 L410.5 233.9 L419.5 233.5 L428.5 233.1 L437.5 232.7 L446.5 232.4 L455.5 232.2 L464.5 232.1 L473.5 232.1 L482.5 232.2 L491.5 232.4 L500.5 232.7 L509.5 232.9 L518.5 233.2 L527.5 233.6 L536.5 233.8 L545.5 234.1 L554.5 234.3 L563.5 234.4" stroke="#e0a05c" stroke-width="1.7" opacity="0.07"/>
<path d="M408.6 223.8 L417.6 223.4 L426.6 223.0 L435.6 222.6 L444.6 222.1 L453.6 221.7 L462.6 221.3 L471.6 220.9 L480.6 220.6 L489.6 220.4 L498.6 220.4 L507.6 220.4 L516.6 220.5 L525.6 220.6 L534.6 220.9 L543.6 221.2 L552.6 221.5 L561.6 221.8 L570.6 222.0 L579.6 222.3 L588.6 222.5 L597.6 222.6 L606.6 222.7" stroke="#8a4a20" stroke-width="1.0" opacity="0.23"/>
<path d="M473.6 152.8 L482.6 152.8 L491.6 152.8 L500.6 152.9 L509.6 153.0 L518.6 153.2 L527.6 153.4 L536.6 153.6 L545.6 153.9 L554.6 154.0 L563.6 154.2 L572.6 154.3 L581.6 154.2 L590.6 154.2 L599.6 154.0 L608.6 153.7 L617.6 153.3 L626.6 152.9 L635.6 152.5 L644.6 152.0 L653.6 151.6 L662.6 151.1 L671.6 150.8 L680.6 150.5 L689.6 150.3 L698.6 150.2" stroke="#7a3f18" stroke-width="1.4" opacity="0.27"/>
<path d="M577.6 194.4 L586.6 194.4 L595.6 194.6 L604.6 194.8 L613.6 195.0 L622.6 195.3 L631.6 195.6 L640.6 195.8 L649.6 196.1 L658.6 196.3 L667.6 196.4 L676.6 196.5 L685.6 196.5 L694.6 196.5 L703.6 196.5 L712.6 196.4" stroke="#5a2c10" stroke-width="1.7" opacity="0.19"/>
<path d="M453.1 198.0 L462.1 197.9 L471.1 197.8 L480.1 197.5 L489.1 197.2 L498.1 196.8 L507.1 196.4 L516.1 195.9 L525.1 195.5 L534.1 195.0 L543.1 194.7 L552.1 194.3 L561.1 194.1 L570.1 194.0 L579.1 193.9" stroke="#e0a05c" stroke-width="1.3" opacity="0.17"/>
<path d="M134.0 249.9 L143.0 249.5 L152.0 248.9 L161.0 248.3 L170.0 247.5 L179.0 247.1 L188.0 247.7 L197.0 248.3" stroke="#5a2c10" stroke-width="1.5" opacity="0.28"/>
<path d="M311.2 229.8 L320.2 230.0 L329.2 230.2 L338.2 230.3 L347.2 230.4 L356.2 230.5 L365.2 230.4 L374.2 230.3 L383.2 230.1 L392.2 229.8 L401.2 229.5 L410.2 229.1 L419.2 228.6 L428.2 228.2 L437.2 227.7 L446.2 227.3 L455.2 227.0 L464.2 226.7 L473.2 226.5 L482.2 226.5 L491.2 226.5 L500.2 226.6 L509.2 226.8 L518.2 227.0 L527.2 227.3 L536.2 227.6" stroke="#6a3514" stroke-width="1.8" opacity="0.19"/>
<path d="M417.0 267.4 L426.0 267.8 L435.0 268.1 L444.0 268.4 L453.0 268.6 L462.0 268.8 L471.0 268.9 L480.0 269.0 L489.0 269.0 L498.0 269.0 L507.0 268.9 L516.0 268.9 L525.0 268.8 L534.0 268.8" stroke="#7a3f18" stroke-width="1.3" opacity="0.15"/>
<path d="M277.4 254.0 L286.4 254.1 L295.4 254.1 L304.4 254.0 L313.4 253.8 L322.4 253.6 L331.4 253.2 L340.4 252.8 L349.4 252.4 L358.4 252.0 L367.4 251.5 L376.4 251.1 L385.4 250.7 L394.4 250.5 L403.4 250.3 L412.4 250.2 L421.4 250.2 L430.4 250.3 L439.4 250.5" stroke="#8a4a20" stroke-width="0.7" opacity="0.16"/>
<path d="M625.8 253.0 L634.8 253.2 L643.8 253.5 L652.8 253.8 L661.8 254.1 L670.8 254.3 L679.8 254.5 L688.8 254.6 L697.8 254.5 L706.8 254.4 L715.8 254.2" stroke="#e0a05c" stroke-width="2.4" opacity="0.13"/>
<path d="M544.8 263.5 L553.8 263.5 L562.8 263.6 L571.8 263.7 L580.8 263.9 L589.8 264.1 L598.8 264.4 L607.8 264.7 L616.8 265.0 L625.8 265.2 L634.8 265.5 L643.8 265.7" stroke="#5a2c10" stroke-width="0.8" opacity="0.25"/>
<path d="M183.2 183.8 L192.2 183.6 L201.2 183.5 L210.2 183.6 L219.2 183.7 L228.2 183.9 L237.2 184.1 L246.2 184.5 L255.2 184.9" stroke="#6a3514" stroke-width="1.4" opacity="0.12"/>
<path d="M378.0 151.1 L387.0 151.4 L396.0 151.7 L405.0 151.9 L414.0 152.0 L423.0 152.1 L432.0 152.1 L441.0 152.0 L450.0 152.0 L459.0 151.9 L468.0 151.8 L477.0 151.8 L486.0 151.8 L495.0 151.8 L504.0 151.9" stroke="#5a2c10" stroke-width="1.1" opacity="0.13"/>
<path d="M398.7 241.9 L407.7 241.5 L416.7 241.2 L425.7 240.9 L434.7 240.8 L443.7 240.7 L452.7 240.8 L461.7 240.9" stroke="#6a3514" stroke-width="0.6" opacity="0.13"/>
<path d="M451.4 176.4 L460.4 176.5 L469.4 176.7 L478.4 176.9 L487.4 177.1 L496.4 177.3 L505.4 177.3 L514.4 177.3 L523.4 177.3 L532.4 177.1 L541.4 176.8 L550.4 176.5 L559.4 176.1 L568.4 175.6 L577.4 175.2 L586.4 174.7 L595.4 174.3" stroke="#6a3514" stroke-width="1.1" opacity="0.16"/>
<path d="M143.9 184.7 L152.9 184.3 L161.9 183.9 L170.9 183.5 L179.9 183.2 L188.9 183.0 L197.9 182.8 L206.9 182.8 L215.9 182.8 L224.9 182.9 L233.9 183.2 L242.9 183.5 L251.9 183.8 L260.9 184.2 L269.9 184.6 L278.9 185.0 L287.9 185.4 L296.9 185.7 L305.9 185.9 L314.9 186.1 L323.9 186.2 L332.9 186.2" stroke="#7a3f18" stroke-width="1.3" opacity="0.22"/>
<path d="M416.4 193.1 L425.4 193.3 L434.4 193.5 L443.4 193.6 L452.4 193.7 L461.4 193.8" stroke="#e0a05c" stroke-width="1.7" opacity="0.08"/>
<path d="M265.1 171.1 L274.1 171.3 L283.1 171.7 L292.1 172.1 L301.1 172.5 L310.1 172.9" stroke="#7a3f18" stroke-width="1.5" opacity="0.14"/>
<path d="M547.0 203.8 L556.0 203.8 L565.0 203.9 L574.0 204.1 L583.0 204.3 L592.0 204.6 L601.0 204.9 L610.0 205.1 L619.0 205.4 L628.0 205.6 L637.0 205.8 L646.0 205.9 L655.0 206.0 L664.0 206.0 L673.0 205.9 L682.0 205.9 L691.0 205.8 L700.0 205.8 L709.0 205.8" stroke="#e0a05c" stroke-width="1.1" opacity="0.16"/>
<path d="M596.0 143.5 L605.0 143.5 L614.0 143.5 L623.0 143.4 L632.0 143.2 L641.0 142.9 L650.0 142.5 L659.0 142.1 L668.0 141.7 L677.0 141.2 L686.0 140.7 L695.0 140.3 L704.0 140.0 L713.0 139.7" stroke="#8a4a20" stroke-width="1.3" opacity="0.23"/>
<path d="M308.0 177.9 L317.0 178.2 L326.0 178.4 L335.0 178.6 L344.0 178.7 L353.0 178.7 L362.0 178.7 L371.0 178.6 L380.0 178.6 L389.0 178.5 L398.0 178.4 L407.0 178.4 L416.0 178.4 L425.0 178.4 L434.0 178.5 L443.0 178.7 L452.0 178.8 L461.0 179.0 L470.0 179.2 L479.0 179.4 L488.0 179.6 L497.0 179.7 L506.0 179.7 L515.0 179.6 L524.0 179.4 L533.0 179.2 L542.0 178.9 L551.0 178.5 L560.0 178.1" stroke="#5a2c10" stroke-width="0.7" opacity="0.31"/>
<path d="M553.2 152.5 L562.2 152.6 L571.2 152.7 L580.2 152.8 L589.2 152.7 L598.2 152.6 L607.2 152.4 L616.2 152.1 L625.2 151.7 L634.2 151.3 L643.2 150.8 L652.2 150.4" stroke="#5a2c10" stroke-width="1.3" opacity="0.22"/>
<path d="M205.6 238.5 L214.6 238.7 L223.6 238.9 L232.6 239.0 L241.6 239.2 L250.6 239.3 L259.6 239.5 L268.6 239.7 L277.6 239.9 L286.6 240.1 L295.6 240.2 L304.6 240.4 L313.6 240.5 L322.6 240.6 L331.6 240.6 L340.6 240.5 L349.6 240.3 L358.6 240.1 L367.6 239.8 L376.6 239.4 L385.6 239.0 L394.6 238.5 L403.6 238.1 L412.6 237.7" stroke="#7a3f18" stroke-width="0.6" opacity="0.24"/>
<path d="M277.0 261.9 L286.0 261.8 L295.0 261.6 L304.0 261.3 L313.0 260.9 L322.0 260.5 L331.0 260.0 L340.0 259.6 L349.0 259.2 L358.0 258.8 L367.0 258.5 L376.0 258.2 L385.0 258.1 L394.0 258.0 L403.0 258.1 L412.0 258.2 L421.0 258.4 L430.0 258.7 L439.0 259.0 L448.0 259.3 L457.0 259.6 L466.0 259.9 L475.0 260.2" stroke="#7a3f18" stroke-width="1.6" opacity="0.28"/>
<path d="M178.8 172.7 L187.8 172.3 L196.8 171.9 L205.8 171.6 L214.8 171.2 L223.8 171.0 L232.8 170.9 L241.8 170.8 L250.8 170.8 L259.8 171.0" stroke="#8a4a20" stroke-width="1.6" opacity="0.12"/>
<path d="M396.6 202.4 L405.6 202.6 L414.6 202.8 L423.6 202.9 L432.6 203.0 L441.6 203.0 L450.6 202.9 L459.6 202.7 L468.6 202.4 L477.6 202.1 L486.6 201.7 L495.6 201.2 L504.6 200.8 L513.6 200.3 L522.6 199.9 L531.6 199.5 L540.6 199.2 L549.6 199.0 L558.6 198.9 L567.6 198.9" stroke="#5a2c10" stroke-width="1.5" opacity="0.29"/>
<path d="M432.0 252.7 L441.0 252.9 L450.0 253.2 L459.0 253.6 L468.0 253.9 L477.0 254.2 L486.0 254.4 L495.0 254.7 L504.0 254.8 L513.0 254.9" stroke="#5a2c10" stroke-width="0.6" opacity="0.20"/>
<path d="M278.4 219.0 L287.4 219.0 L296.4 218.9 L305.4 218.9 L314.4 218.9 L323.4 219.0 L332.4 219.2 L341.4 219.3" stroke="#5a2c10" stroke-width="1.1" opacity="0.11"/>
<path d="M564.3 151.1 L573.3 151.2 L582.3 151.3 L591.3 151.2 L600.3 151.1 L609.3 150.9 L618.3 150.7 L627.3 150.3 L636.3 149.9 L645.3 149.4 L654.3 149.0 L663.3 148.5 L672.3 148.1 L681.3 147.7 L690.3 147.5 L699.3 147.3 L708.3 147.2 L717.3 147.2" stroke="#6a3514" stroke-width="1.4" opacity="0.21"/>
<path d="M533.9 197.8 L542.9 197.4 L551.9 197.2 L560.9 197.0 L569.9 197.0 L578.9 197.0 L587.9 197.2 L596.9 197.4 L605.9 197.6 L614.9 197.9 L623.9 198.2 L632.9 198.5 L641.9 198.7 L650.9 198.9 L659.9 199.1 L668.9 199.1 L677.9 199.2 L686.9 199.2 L695.9 199.1 L704.9 199.1 L713.9 199.0" stroke="#6a3514" stroke-width="1.0" opacity="0.20"/>
<path d="M534.5 197.8 L543.5 197.5 L552.5 197.3 L561.5 197.1 L570.5 197.1 L579.5 197.2 L588.5 197.3 L597.5 197.5 L606.5 197.8 L615.5 198.0 L624.5 198.3 L633.5 198.6 L642.5 198.8 L651.5 199.0 L660.5 199.2 L669.5 199.3 L678.5 199.3 L687.5 199.3 L696.5 199.2 L705.5 199.2 L714.5 199.1" stroke="#6a3514" stroke-width="1.9" opacity="0.12"/>
<path d="M326.3 172.3 L335.3 172.6 L344.3 172.8 L353.3 173.0 L362.3 173.1 L371.3 173.1 L380.3 173.1 L389.3 173.0 L398.3 172.9 L407.3 172.8 L416.3 172.8 L425.3 172.7 L434.3 172.8 L443.3 172.8 L452.3 172.9 L461.3 173.1" stroke="#5a2c10" stroke-width="1.2" opacity="0.13"/>
<path d="M514.2 191.5 L523.2 191.1 L532.2 190.6 L541.2 190.2 L550.2 189.7 L559.2 189.4 L568.2 189.1 L577.2 188.8 L586.2 188.7 L595.2 188.7 L604.2 188.7 L613.2 188.9 L622.2 189.1 L631.2 189.3 L640.2 189.6 L649.2 189.9 L658.2 190.2 L667.2 190.4 L676.2 190.6 L685.2 190.7 L694.2 190.8 L703.2 190.8" stroke="#5a2c10" stroke-width="0.6" opacity="0.24"/>
<path d="M460.5 152.3 L469.5 152.2 L478.5 152.1 L487.5 152.2 L496.5 152.2 L505.5 152.3 L514.5 152.5 L523.5 152.7 L532.5 152.9 L541.5 153.1 L550.5 153.3 L559.5 153.5 L568.5 153.6" stroke="#7a3f18" stroke-width="1.5" opacity="0.24"/>
<path d="M407.2 184.3 L416.2 184.4 L425.2 184.5 L434.2 184.7 L443.2 184.9 L452.2 185.1 L461.2 185.3 L470.2 185.4 L479.2 185.5" stroke="#8a4a20" stroke-width="1.0" opacity="0.31"/>
</g>
<g filter="url(#rough)">
<path d="M103.0 173.1 L104.1 173.3 L105.3 172.9 L106.9 172.8 L108.5 172.4 L110.1 171.7 L111.5 170.9 L113.1 170.7 L114.5 170.1 L115.8 169.3 L116.9 168.4 L117.5 166.8 L119.0 166.5 L120.2 165.5 L121.2 164.2 L122.7 163.5 L124.3 163.2 L125.3 161.9 L126.7 161.4 L127.8 160.3 L129.5 160.1 L130.8 158.9 L132.2 158.4 L133.3 157.9 L134.0 157.1 L134.0 156.9 L132.9 156.7 L131.7 157.0 L130.2 157.4 L128.4 157.4 L127.0 158.4 L125.3 158.6 L124.0 159.6 L122.3 159.8 L121.2 161.2 L120.0 162.3 L118.4 162.8 L117.0 163.5 L116.1 164.9 L114.4 165.1 L113.2 166.0 L112.2 166.9 L111.3 167.9 L110.5 169.1 L109.2 169.6 L107.7 170.1 L106.2 170.8 L104.9 171.7 L103.7 172.1 L103.0 172.9Z" fill="#3f1e0d" opacity="0.80"/>
<path d="M106.0 184.1 L107.4 185.0 L109.5 185.5 L111.9 186.3 L114.5 187.1 L117.1 187.7 L119.5 188.5 L121.9 189.0 L124.1 190.0 L126.2 191.6 L128.4 192.7 L130.5 194.2 L132.9 195.2 L135.5 195.6 L137.4 197.4 L139.4 199.4 L141.5 201.2 L144.3 202.2 L146.8 203.7 L149.5 204.9 L152.7 205.1 L155.5 206.1 L158.2 208.2 L161.4 208.6 L164.6 209.4 L167.9 208.4 L171.2 209.4 L174.4 209.1 L177.6 208.7 L180.8 209.2 L183.9 209.2 L187.1 208.9 L190.5 209.1 L194.1 209.0 L197.5 209.5 L200.7 210.5 L203.8 211.2 L206.6 209.9 L208.9 210.6 L211.1 210.4 L213.3 211.1 L215.6 210.6 L218.1 210.2 L220.8 209.5 L223.8 209.3 L226.8 209.1 L230.0 209.2 L233.1 208.9 L236.2 208.8 L239.4 207.6 L242.9 207.6 L246.3 206.7 L249.5 205.9 L252.2 205.1 L254.0 204.1 L254.0 203.9 L251.9 203.6 L249.1 203.8 L245.9 204.2 L242.4 204.5 L239.1 205.6 L235.8 205.2 L232.8 205.6 L229.7 205.8 L226.7 206.2 L223.6 206.4 L220.7 206.4 L217.9 205.8 L215.4 205.6 L213.2 205.2 L211.1 206.0 L209.0 205.8 L206.7 206.4 L204.2 204.8 L201.3 205.0 L198.0 205.3 L194.6 205.0 L191.1 204.1 L187.6 203.5 L184.1 202.8 L180.7 202.7 L177.4 203.4 L174.2 203.3 L171.1 203.2 L168.1 204.1 L165.4 202.6 L162.6 202.3 L159.9 201.4 L156.8 201.9 L154.1 201.0 L151.7 199.2 L149.2 198.3 L146.7 197.4 L144.7 195.7 L142.2 194.8 L139.7 193.9 L137.1 192.9 L135.1 190.8 L132.8 189.5 L130.2 188.8 L127.8 187.8 L125.2 187.4 L122.8 186.6 L120.5 185.5 L117.9 184.9 L115.1 184.2 L112.3 184.0 L109.8 183.8 L107.6 183.6 L106.0 183.9Z" fill="#3f1e0d" opacity="0.90"/>
<path d="M149.9 203.1 L151.9 204.4 L154.7 205.8 L158.1 207.2 L161.8 208.8 L165.8 210.2 L169.8 211.1 L173.8 212.3 L178.2 212.3 L182.7 212.2 L187.3 212.2 L191.7 213.2 L196.0 212.7 L200.1 213.2 L204.3 213.2 L208.4 212.9 L212.4 213.0 L216.3 213.1 L220.1 212.0 L223.9 211.7 L227.8 211.0 L231.7 210.8 L235.1 209.8 L238.0 208.9 L240.0 208.1 L240.0 207.9 L237.8 207.8 L234.8 208.0 L231.3 208.2 L227.6 209.2 L223.7 209.5 L219.9 210.0 L216.2 209.2 L212.4 209.5 L208.4 209.6 L204.3 209.2 L200.2 209.0 L196.0 209.3 L191.7 208.8 L187.3 209.8 L182.8 209.6 L178.4 209.4 L174.2 208.8 L170.2 208.9 L166.4 208.0 L162.5 206.9 L158.7 205.7 L155.3 204.3 L152.3 203.3 L150.1 202.9Z" fill="#5a2c12" opacity="0.60"/>
<path d="M82.0 208.1 L83.9 208.7 L86.5 209.3 L89.6 210.1 L93.0 210.7 L96.5 211.1 L99.7 212.5 L102.9 213.1 L106.2 214.2 L109.5 215.4 L112.9 216.6 L116.2 217.8 L119.6 218.4 L122.8 219.1 L125.9 220.6 L128.9 221.9 L132.1 222.4 L134.9 223.7 L137.8 224.0 L140.3 224.0 L142.7 224.6 L144.7 223.7 L146.7 223.5 L148.5 222.6 L150.4 221.4 L153.1 221.8 L155.3 219.9 L158.0 219.4 L160.5 218.4 L163.2 218.0 L165.5 216.8 L167.8 215.8 L170.3 215.5 L172.9 215.5 L175.2 214.4 L177.9 214.4 L180.5 214.0 L182.8 212.6 L185.4 212.1 L187.9 211.3 L190.4 210.8 L192.9 210.2 L195.3 209.4 L198.0 208.8 L200.8 207.8 L203.6 207.0 L206.2 206.3 L208.5 205.9 L210.0 205.1 L210.0 204.9 L208.3 204.7 L206.0 205.2 L203.3 205.5 L200.4 205.8 L197.4 206.0 L194.7 206.6 L192.1 207.1 L189.6 207.8 L187.1 208.7 L184.6 209.3 L182.2 210.1 L179.5 210.0 L177.1 210.7 L174.8 211.6 L172.1 211.4 L169.7 212.3 L167.2 213.0 L164.5 213.2 L161.7 213.5 L159.3 214.8 L156.7 215.8 L154.3 217.1 L151.5 216.8 L149.6 218.6 L147.3 218.6 L145.3 218.8 L143.7 219.5 L142.0 219.3 L140.3 220.3 L138.2 220.0 L135.8 219.4 L132.9 219.4 L130.1 218.1 L126.9 217.4 L123.6 216.8 L120.4 215.6 L117.3 214.2 L113.9 213.4 L110.5 212.3 L107.0 211.4 L103.6 210.5 L100.3 209.5 L96.8 209.5 L93.4 208.6 L89.9 208.2 L86.7 208.1 L84.0 207.9 L82.0 207.9Z" fill="#3f1e0d" opacity="0.85"/>
<path d="M96.0 196.1 L97.7 196.7 L100.1 197.3 L102.9 197.8 L106.0 198.0 L109.0 198.5 L111.8 199.1 L114.3 200.2 L117.1 200.7 L119.9 201.3 L122.5 202.7 L125.2 203.3 L127.5 204.5 L130.1 204.6 L132.4 205.7 L134.7 206.1 L136.7 206.9 L138.6 207.1 L140.0 207.1 L140.0 206.9 L138.9 206.1 L137.3 205.1 L135.3 204.5 L133.1 203.4 L130.6 203.0 L128.5 201.5 L125.9 201.1 L123.4 199.9 L120.6 199.5 L117.9 198.2 L115.1 197.2 L112.2 196.9 L109.3 196.4 L106.2 196.1 L103.1 195.5 L100.2 195.5 L97.8 195.7 L96.0 195.9Z" fill="#3f1e0d" opacity="0.60"/>
<path d="M138.1 177.1 L139.1 177.3 L140.0 176.7 L141.1 176.1 L142.4 175.9 L143.3 175.4 L144.2 175.7 L144.9 175.3 L145.8 175.4 L146.5 176.1 L147.4 176.6 L148.0 177.6 L149.2 177.3 L149.9 177.9 L150.9 178.4 L151.5 179.3 L152.1 179.8 L152.2 180.2 L151.9 179.6 L152.7 179.4 L152.2 179.4 L151.5 179.8 L150.5 179.9 L149.6 180.0 L149.0 180.4 L148.4 180.6 L147.6 180.3 L146.7 180.0 L145.6 180.1 L144.9 179.7 L144.1 179.9 L143.9 180.1 L144.2 180.9 L145.0 181.2 L145.7 182.2 L146.7 182.8 L147.8 183.1 L149.0 183.6 L150.2 183.9 L151.5 183.5 L152.6 182.9 L153.8 182.5 L154.7 181.5 L156.1 180.4 L155.6 178.6 L154.7 177.7 L153.9 176.7 L152.7 176.1 L151.8 175.2 L150.8 174.7 L150.3 173.3 L148.9 173.4 L147.7 173.0 L146.4 173.0 L145.2 172.7 L143.8 172.3 L142.5 173.1 L141.2 173.5 L140.2 174.6 L139.1 175.4 L138.3 176.0 L137.9 176.9Z" fill="#3f1e0d" opacity="0.80"/>
<path d="M139.9 172.1 L140.2 173.2 L141.1 173.7 L142.1 174.4 L142.7 175.9 L143.9 176.6 L145.0 177.2 L146.2 177.9 L147.3 179.0 L148.3 180.3 L149.7 181.1 L150.6 182.0 L151.9 182.1 L152.1 181.9 L152.1 180.6 L151.2 179.7 L150.4 178.2 L149.1 177.2 L147.9 176.1 L147.0 174.8 L146.0 173.7 L144.8 172.8 L143.1 172.8 L142.0 172.2 L141.1 171.6 L140.1 171.9Z" fill="#3f1e0d" opacity="0.60"/>
<path d="M172.1 163.1 L173.1 162.9 L174.2 162.1 L175.3 161.2 L176.3 160.1 L177.4 159.5 L178.4 159.5 L179.2 159.5 L180.4 159.6 L181.4 160.8 L183.1 160.2 L184.2 160.9 L184.9 161.8 L185.5 162.8 L187.0 162.7 L187.2 164.0 L187.8 164.5 L188.6 164.6 L188.4 164.2 L188.6 164.0 L187.7 164.2 L186.5 165.3 L185.1 165.8 L183.8 166.3 L183.0 166.9 L183.0 167.1 L184.0 167.4 L185.4 167.4 L187.0 167.3 L188.7 167.7 L190.2 167.1 L191.6 165.8 L191.4 164.0 L191.5 162.3 L190.7 161.0 L189.1 160.5 L188.6 158.6 L187.1 158.2 L185.6 157.9 L184.0 157.5 L182.8 155.9 L180.9 156.4 L179.3 156.3 L177.6 156.5 L176.2 157.4 L175.0 158.5 L173.7 159.5 L172.8 160.8 L172.1 161.9 L171.9 162.9Z" fill="#3f1e0d" opacity="0.75"/>
<path d="M169.9 158.1 L170.5 159.5 L171.8 160.8 L173.4 162.4 L175.3 163.9 L177.5 164.8 L179.7 165.6 L182.1 165.6 L184.5 165.0 L186.9 164.4 L189.0 163.6 L190.9 163.1 L192.0 162.1 L192.0 161.9 L190.5 161.5 L188.6 162.0 L186.4 162.3 L184.1 162.7 L182.0 162.6 L180.3 162.4 L178.7 161.9 L177.0 160.9 L175.1 159.9 L173.2 158.9 L171.6 158.0 L170.1 157.9Z" fill="#3f1e0d" opacity="0.55"/>
<path d="M204.1 161.1 L205.1 160.9 L206.4 160.2 L208.0 159.7 L209.5 158.9 L210.8 158.1 L212.0 158.2 L213.1 158.3 L214.1 158.9 L215.2 159.5 L216.2 160.8 L217.9 161.1 L218.9 162.6 L220.7 163.0 L221.8 164.4 L222.9 166.0 L224.6 167.1 L226.3 168.3 L228.1 169.5 L229.9 170.7 L232.2 171.2 L234.1 172.3 L236.3 172.8 L238.3 174.0 L240.3 174.9 L242.6 175.2 L244.5 176.8 L246.8 177.2 L249.1 177.9 L251.3 178.7 L253.8 178.4 L256.0 179.1 L258.1 179.6 L260.3 179.5 L262.5 179.0 L264.7 178.6 L267.1 178.3 L269.8 178.7 L272.5 177.6 L275.4 177.7 L278.2 176.9 L281.1 176.3 L284.0 175.9 L287.3 175.9 L290.8 176.4 L294.5 176.1 L297.9 176.4 L300.9 176.4 L303.0 176.1 L303.0 175.9 L300.9 175.3 L298.1 174.9 L294.6 174.7 L291.0 173.9 L287.3 174.1 L284.0 174.1 L280.9 174.1 L277.9 174.2 L274.9 174.1 L272.1 175.2 L269.3 174.8 L266.9 175.7 L264.5 175.7 L262.3 175.6 L260.2 175.2 L258.3 175.1 L256.3 175.4 L254.2 175.6 L252.3 174.4 L250.2 174.1 L248.1 173.4 L246.0 172.3 L243.6 172.4 L241.7 171.1 L239.6 170.5 L237.3 170.2 L235.4 169.1 L233.3 168.5 L231.7 167.2 L229.9 166.5 L228.3 165.5 L226.9 164.3 L225.6 162.9 L223.9 162.0 L222.1 161.1 L221.1 159.4 L219.3 159.1 L218.3 157.5 L216.6 157.1 L215.2 156.3 L213.6 156.1 L212.0 155.8 L210.3 156.4 L208.5 156.9 L207.0 157.8 L205.8 159.2 L204.6 160.1 L203.9 160.9Z" fill="#3f1e0d" opacity="0.80"/>
<path d="M198.0 166.1 L198.7 166.8 L199.8 167.4 L201.3 167.8 L202.8 168.6 L204.4 169.2 L206.0 169.0 L207.7 169.3 L209.0 168.2 L210.7 168.3 L211.8 167.2 L213.0 167.6 L213.8 167.3 L214.8 167.2 L215.9 167.7 L216.9 168.6 L218.0 169.3 L219.1 169.8 L219.9 170.1 L220.1 169.9 L219.6 169.2 L219.0 168.2 L218.1 167.2 L216.8 166.3 L215.6 165.5 L214.2 164.7 L212.6 164.5 L211.2 165.5 L209.6 165.4 L208.5 166.6 L207.0 166.3 L206.0 167.0 L204.8 166.5 L203.3 166.5 L201.7 166.4 L200.3 165.9 L199.0 165.7 L198.0 165.9Z" fill="#3f1e0d" opacity="0.60"/>
<path d="M160.0 151.1 L161.8 151.1 L164.1 150.7 L166.9 150.1 L170.0 149.9 L173.0 149.2 L176.1 148.9 L179.2 148.9 L182.4 148.5 L185.8 148.6 L189.2 148.7 L192.6 148.7 L195.9 148.8 L199.4 149.5 L203.3 149.6 L207.1 150.4 L210.7 150.7 L213.7 151.1 L216.0 151.1 L216.0 150.9 L213.9 150.2 L210.9 149.5 L207.4 148.6 L203.5 148.1 L199.7 147.3 L196.1 147.2 L192.7 146.9 L189.2 146.6 L185.8 146.6 L182.3 146.8 L179.0 146.7 L175.9 147.1 L172.8 147.5 L169.6 147.9 L166.6 148.9 L163.9 149.6 L161.6 150.2 L160.0 150.9Z" fill="#3f1e0d" opacity="0.55"/>
<path d="M92.0 146.1 L94.0 146.7 L96.8 147.4 L100.2 148.0 L103.9 148.8 L107.9 149.3 L112.0 149.7 L116.1 150.4 L120.7 150.4 L125.4 150.2 L130.2 150.5 L135.2 150.3 L140.0 150.0 L145.3 149.8 L151.0 149.3 L156.8 148.6 L162.2 148.1 L166.8 147.8 L170.0 147.1 L170.0 146.9 L166.7 146.7 L162.1 147.1 L156.7 147.4 L150.9 147.6 L145.2 147.7 L140.0 148.0 L135.1 148.0 L130.2 148.1 L125.4 148.4 L120.7 148.2 L116.2 148.0 L112.0 148.3 L108.0 148.0 L104.1 147.4 L100.3 147.0 L97.0 146.4 L94.1 146.0 L92.0 145.9Z" fill="#3f1e0d" opacity="0.50"/>
<path d="M225.0 146.1 L227.6 146.8 L231.2 147.4 L235.5 148.2 L240.3 149.0 L245.2 149.4 L250.0 149.9 L254.7 149.6 L259.7 149.3 L264.8 149.0 L269.9 148.6 L275.0 148.1 L280.0 147.7 L285.3 147.7 L291.1 148.0 L296.8 148.4 L302.2 148.8 L306.7 149.1 L310.0 149.1 L310.0 148.9 L306.8 148.3 L302.3 147.9 L296.9 147.4 L291.1 146.9 L285.4 146.6 L280.0 146.3 L274.9 146.2 L269.7 146.5 L264.6 147.1 L259.6 147.8 L254.7 148.3 L250.0 148.1 L245.3 148.1 L240.5 147.6 L235.7 147.0 L231.4 146.5 L227.7 146.0 L225.0 145.9Z" fill="#3f1e0d" opacity="0.45"/>
<path d="M186.1 196.1 L187.7 195.7 L189.9 195.1 L192.4 194.1 L195.1 193.2 L197.8 192.5 L200.2 192.1 L202.4 192.0 L204.7 192.4 L207.0 192.4 L209.3 192.8 L211.6 192.7 L213.9 193.0 L215.9 193.5 L217.7 194.4 L219.7 194.5 L221.7 194.7 L223.8 194.8 L226.0 195.2 L228.5 194.9 L231.1 194.2 L233.9 193.7 L236.4 193.4 L238.6 192.8 L240.0 192.1 L240.0 191.9 L238.4 191.7 L236.2 191.9 L233.6 192.5 L230.9 192.9 L228.3 192.9 L226.0 192.8 L224.0 193.0 L222.1 192.5 L220.3 191.9 L218.4 191.1 L216.3 191.1 L214.1 191.0 L211.9 190.7 L209.7 190.0 L207.3 189.7 L204.8 189.4 L202.3 189.6 L199.8 189.9 L197.3 190.6 L194.5 191.6 L191.8 192.7 L189.4 193.8 L187.4 195.0 L185.9 195.9Z" fill="#3f1e0d" opacity="0.70"/>
<path d="M120.0 180.1 L121.4 180.8 L123.5 181.1 L125.8 182.0 L128.5 182.3 L131.2 183.1 L133.7 184.0 L136.1 185.1 L138.8 186.2 L141.5 187.5 L144.3 188.8 L147.0 190.0 L149.7 191.0 L152.4 191.6 L155.2 192.0 L157.9 192.6 L160.4 192.9 L162.4 193.2 L164.0 193.1 L164.0 192.9 L162.6 192.3 L160.5 191.9 L158.1 191.3 L155.5 190.8 L152.8 189.9 L150.3 189.0 L147.8 188.1 L145.2 186.9 L142.5 185.5 L139.7 184.2 L137.0 182.9 L134.3 182.0 L131.6 181.4 L128.8 180.9 L126.2 180.2 L123.6 180.1 L121.6 179.7 L120.0 179.9Z" fill="#3f1e0d" opacity="0.50"/>
<path d="M196.0 215.1 L197.9 215.0 L200.4 214.3 L203.3 213.6 L206.4 212.7 L209.4 212.3 L212.1 212.2 L214.4 212.1 L216.7 212.1 L219.0 212.5 L221.2 213.3 L223.5 213.8 L225.8 214.3 L228.2 214.6 L230.6 214.6 L233.0 215.1 L235.4 214.9 L237.8 215.1 L240.1 215.1 L242.4 214.4 L244.8 213.9 L247.1 213.2 L249.1 212.5 L250.8 211.7 L252.0 211.1 L252.0 210.9 L250.6 211.0 L248.8 211.4 L246.7 211.9 L244.4 212.4 L242.1 213.0 L239.9 212.9 L237.8 213.0 L235.5 213.1 L233.2 212.5 L230.9 212.5 L228.5 211.9 L226.2 211.7 L223.9 211.5 L221.6 211.1 L219.3 210.9 L216.9 210.4 L214.5 209.9 L211.9 209.8 L209.1 210.4 L206.1 211.4 L202.9 212.2 L200.0 213.1 L197.6 214.0 L196.0 214.9Z" fill="#3f1e0d" opacity="0.60"/>
<path d="M214.0 252.1 L216.8 252.4 L220.7 252.6 L225.3 252.6 L230.3 252.6 L235.3 252.3 L240.1 252.2 L244.7 252.3 L249.3 251.6 L254.0 251.2 L258.7 251.3 L263.4 250.5 L268.1 250.2 L273.1 249.8 L278.4 249.4 L283.8 248.9 L288.8 248.3 L293.0 247.8 L296.0 247.1 L296.0 246.9 L292.9 246.6 L288.7 246.7 L283.7 246.8 L278.3 247.2 L272.9 247.5 L267.9 247.8 L263.2 248.2 L258.5 248.1 L253.8 248.9 L249.1 249.2 L244.4 249.1 L239.9 249.8 L235.2 250.1 L230.2 250.3 L225.2 250.6 L220.6 250.9 L216.8 251.4 L214.0 251.9Z" fill="#3f1e0d" opacity="0.70"/>
<path d="M228.0 256.1 L231.5 256.6 L236.4 256.7 L242.1 256.8 L248.3 257.2 L254.4 257.2 L260.0 257.0 L265.5 256.6 L271.3 256.0 L277.1 255.2 L282.4 254.5 L286.8 253.8 L290.0 253.1 L290.0 252.9 L286.7 252.9 L282.2 253.3 L276.9 253.8 L271.2 254.2 L265.4 254.7 L260.0 255.0 L254.4 255.1 L248.3 255.2 L242.1 255.5 L236.4 255.6 L231.5 255.5 L228.0 255.9Z" fill="#3f1e0d" opacity="0.45"/>
<path d="M258.0 191.1 L261.6 190.9 L266.5 190.3 L272.2 189.5 L278.4 188.9 L284.5 188.1 L290.0 187.8 L295.1 188.0 L300.1 187.9 L305.1 188.2 L310.0 189.1 L315.0 189.1 L319.9 190.0 L325.2 190.5 L331.0 191.2 L336.8 191.7 L342.1 192.5 L346.7 192.9 L350.0 193.1 L350.0 192.9 L346.8 192.2 L342.3 191.3 L337.0 190.6 L331.2 189.5 L325.4 188.7 L320.1 188.0 L315.1 187.8 L310.2 186.8 L305.2 186.8 L300.2 186.4 L295.1 186.0 L290.0 186.2 L284.3 186.6 L278.2 187.2 L272.0 188.2 L266.3 189.2 L261.4 190.1 L258.0 190.9Z" fill="#3f1e0d" opacity="0.45"/>
<path d="M290.0 201.1 L292.1 201.7 L295.0 202.5 L298.5 203.0 L302.4 203.6 L306.2 204.6 L309.9 204.7 L313.5 205.1 L317.2 205.3 L321.0 205.6 L324.7 205.8 L328.4 206.0 L332.0 205.7 L335.7 206.0 L339.6 205.7 L343.4 205.1 L346.9 204.9 L349.9 204.6 L352.0 204.1 L352.0 203.9 L349.8 203.6 L346.8 203.7 L343.3 204.0 L339.5 203.8 L335.6 203.9 L332.0 204.3 L328.4 204.0 L324.8 204.0 L321.0 203.9 L317.3 203.8 L313.6 203.5 L310.1 203.3 L306.4 202.6 L302.5 202.5 L298.7 201.9 L295.2 201.2 L292.2 201.0 L290.0 200.9Z" fill="#3f1e0d" opacity="0.50"/>
<path d="M300.0 160.1 L304.3 160.1 L310.0 159.5 L316.9 159.0 L324.5 158.3 L332.3 158.2 L340.0 157.9 L347.9 157.6 L356.3 157.9 L365.0 158.1 L373.7 158.0 L382.1 158.7 L390.0 158.8 L397.7 159.3 L405.5 159.8 L413.1 160.0 L419.9 160.8 L425.7 161.1 L430.0 161.1 L430.0 160.9 L425.8 160.2 L420.1 159.5 L413.2 159.1 L405.6 158.1 L397.8 157.5 L390.0 157.2 L382.2 156.6 L373.7 156.8 L365.0 156.1 L356.3 156.0 L347.9 156.2 L340.0 156.1 L332.2 156.4 L324.4 157.3 L316.8 157.9 L310.0 158.6 L304.2 159.2 L300.0 159.9Z" fill="#3f1e0d" opacity="0.40"/>
<path d="M330.0 176.1 L334.3 176.9 L340.3 177.7 L347.4 178.6 L355.1 179.5 L362.8 180.4 L370.0 180.9 L376.8 180.7 L383.7 180.6 L390.7 180.2 L397.5 179.7 L404.0 179.3 L410.0 178.6 L416.0 178.3 L421.9 177.8 L427.5 177.5 L432.6 177.0 L436.9 176.6 L440.0 176.1 L440.0 175.9 L436.8 175.8 L432.6 176.1 L427.5 176.2 L421.8 176.7 L415.9 176.9 L410.0 177.4 L403.8 177.5 L397.3 178.1 L390.6 178.5 L383.7 179.0 L376.8 179.3 L370.0 179.1 L362.9 178.9 L355.2 178.4 L347.6 177.7 L340.4 176.8 L334.4 176.1 L330.0 175.9Z" fill="#3f1e0d" opacity="0.40"/>
<path d="M380.0 196.1 L384.2 196.7 L389.9 197.5 L396.8 198.3 L404.4 199.2 L412.3 199.5 L420.0 199.8 L427.9 199.6 L436.4 198.8 L445.1 197.9 L453.8 196.9 L462.2 196.2 L470.0 195.6 L477.7 196.0 L485.5 196.0 L493.1 196.5 L500.0 196.6 L505.7 197.1 L510.0 197.1 L510.0 196.9 L505.8 196.3 L500.0 195.9 L493.2 195.0 L485.6 194.6 L477.7 194.1 L470.0 194.4 L462.1 194.6 L453.6 195.4 L444.9 196.3 L436.2 197.2 L427.8 197.8 L420.0 198.2 L412.3 198.3 L404.5 197.7 L396.9 197.2 L390.1 196.6 L384.3 196.1 L380.0 195.9Z" fill="#3f1e0d" opacity="0.40"/>
<path d="M112.0 190.1 L113.8 191.1 L116.5 192.2 L119.7 193.4 L123.2 194.4 L126.6 195.7 L129.7 196.8 L132.5 198.3 L135.6 199.7 L138.8 201.0 L141.5 202.6 L144.0 203.7 L145.9 204.1 L146.1 203.9 L144.6 202.5 L142.3 201.1 L139.5 199.7 L136.5 198.0 L133.4 196.3 L130.3 195.2 L127.2 193.9 L123.7 192.8 L120.3 191.6 L117.0 190.7 L114.1 190.2 L112.0 189.9Z" fill="#3f1e0d" opacity="0.60"/>
<path d="M150.0 190.1 L152.0 191.2 L155.0 192.3 L158.5 193.7 L162.4 194.7 L166.2 195.8 L169.7 197.2 L173.1 197.7 L176.3 198.4 L179.5 199.3 L182.8 199.4 L186.3 200.0 L190.0 200.2 L194.2 200.0 L199.0 199.6 L203.8 199.1 L208.4 198.4 L212.3 197.8 L215.0 197.1 L215.0 196.9 L212.2 196.8 L208.3 197.0 L203.7 197.3 L198.8 197.6 L194.1 197.9 L190.0 197.8 L186.5 197.7 L183.1 197.5 L179.9 196.7 L176.7 196.4 L173.5 195.8 L170.3 194.8 L166.6 194.4 L162.8 193.3 L159.0 191.9 L155.4 191.0 L152.3 190.2 L150.0 189.9Z" fill="#3f1e0d" opacity="0.60"/>
<path d="M120.0 205.1 L122.0 206.1 L125.0 207.1 L128.6 208.1 L132.3 209.4 L136.3 210.0 L139.8 211.1 L143.4 211.7 L147.3 211.7 L151.2 212.1 L154.8 212.1 L157.8 212.4 L160.0 212.1 L160.0 211.9 L157.9 211.2 L154.9 211.0 L151.3 210.5 L147.5 210.2 L143.7 209.4 L140.2 208.9 L136.6 208.6 L132.9 207.3 L128.9 206.7 L125.4 205.7 L122.3 205.1 L120.0 204.9Z" fill="#3f1e0d" opacity="0.55"/>
<path d="M224.0 182.1 L225.5 183.1 L227.9 183.9 L230.6 185.0 L233.7 185.7 L236.9 186.3 L239.9 186.8 L243.0 187.2 L246.5 187.3 L250.0 187.2 L253.3 187.0 L256.0 186.5 L258.0 186.1 L258.0 185.9 L256.0 185.6 L253.2 185.3 L250.0 185.3 L246.5 185.3 L243.1 185.3 L240.1 185.2 L237.2 184.8 L234.2 183.9 L231.2 183.0 L228.3 182.5 L225.9 181.9 L224.0 181.9Z" fill="#3f1e0d" opacity="0.55"/>
<path d="M159.9 172.1 L161.1 172.9 L162.8 173.8 L164.9 174.6 L167.1 175.7 L169.5 176.6 L171.8 177.1 L174.3 177.0 L177.0 177.5 L179.8 177.4 L182.3 176.9 L184.5 176.5 L186.0 176.1 L186.0 175.9 L184.4 175.6 L182.3 175.4 L179.7 175.1 L177.0 175.1 L174.4 175.5 L172.2 174.9 L170.0 174.4 L167.7 173.9 L165.4 173.4 L163.3 172.6 L161.4 172.1 L160.1 171.9Z" fill="#3f1e0d" opacity="0.55"/>
<path d="M196.0 176.1 L197.3 177.0 L199.3 177.8 L201.7 178.8 L204.4 179.5 L207.1 180.5 L209.8 180.9 L212.6 181.6 L215.7 181.7 L218.8 181.9 L221.7 182.4 L224.2 182.4 L226.0 182.1 L226.0 181.9 L224.3 181.2 L221.9 180.7 L218.9 180.6 L215.9 180.1 L212.9 179.3 L210.2 179.1 L207.7 178.3 L204.9 177.9 L202.3 176.9 L199.8 176.4 L197.7 175.9 L196.0 175.9Z" fill="#3f1e0d" opacity="0.50"/>
<path d="M228.0 197.1 L229.6 197.8 L231.9 198.7 L234.7 199.0 L237.8 199.4 L240.9 200.4 L244.0 200.5 L247.1 200.4 L250.6 200.3 L254.1 199.6 L257.3 199.4 L260.1 198.8 L262.0 198.1 L262.0 197.9 L260.0 197.5 L257.2 197.4 L253.9 197.6 L250.4 197.4 L247.1 197.6 L244.0 197.5 L241.2 197.2 L238.0 197.6 L235.0 197.1 L232.2 196.5 L229.8 196.7 L228.0 196.9Z" fill="#3f1e0d" opacity="0.65"/>
<path d="M104.0 160.1 L105.4 160.3 L107.3 160.1 L109.5 159.9 L111.9 160.0 L114.2 159.5 L116.2 158.7 L118.2 158.4 L120.2 157.5 L122.1 156.8 L123.8 155.9 L125.1 154.9 L126.1 154.1 L125.9 153.9 L124.8 154.1 L123.1 154.4 L121.4 155.0 L119.5 155.8 L117.6 156.4 L115.8 157.3 L113.8 157.4 L111.5 157.8 L109.3 158.6 L107.1 159.0 L105.3 159.3 L104.0 159.9Z" fill="#3f1e0d" opacity="0.50"/>
<path d="M236.0 160.1 L237.4 160.9 L239.4 161.7 L241.8 162.7 L244.5 163.3 L247.2 164.0 L249.8 164.8 L252.4 165.4 L254.9 166.0 L257.6 166.4 L260.4 166.4 L263.1 167.0 L266.0 166.7 L269.1 167.0 L272.6 166.6 L276.1 166.3 L279.3 166.0 L282.1 165.6 L284.0 165.1 L284.0 164.9 L282.0 164.7 L279.2 164.7 L275.9 164.9 L272.5 165.1 L269.1 165.0 L266.0 165.3 L263.3 164.7 L260.5 164.9 L257.9 164.2 L255.3 163.9 L252.7 163.6 L250.2 163.2 L247.5 162.8 L244.8 162.0 L242.2 161.1 L239.7 160.5 L237.6 160.1 L236.0 159.9Z" fill="#3f1e0d" opacity="0.50"/>
<ellipse cx="148" cy="225.5" rx="5" ry="2.6" fill="none" stroke="#4a2410" stroke-width="1.1" opacity="0.7"/>
<ellipse cx="148" cy="225.5" rx="2" ry="1" fill="#4a2410" opacity="0.5"/>
<path d="M100.0 236.1 L103.2 236.9 L107.8 237.6 L113.2 238.5 L119.0 239.4 L124.7 240.2 L130.0 240.6 L134.9 240.7 L139.9 240.3 L144.8 240.2 L149.6 239.7 L154.0 239.0 L158.1 238.7 L161.7 238.3 L164.9 237.6 L167.8 237.0 L170.5 236.5 L173.2 235.9 L176.0 235.7 L178.8 235.8 L181.4 236.3 L184.1 236.7 L186.9 237.3 L190.1 238.2 L193.9 238.6 L198.2 239.5 L203.0 240.3 L208.2 241.4 L213.6 242.3 L219.3 243.1 L225.0 243.5 L231.2 243.6 L238.3 243.5 L245.5 243.2 L252.2 242.9 L257.9 242.5 L262.0 242.1 L262.0 241.9 L257.9 241.9 L252.2 242.1 L245.4 242.5 L238.2 242.6 L231.3 242.7 L225.0 242.5 L219.4 241.9 L213.8 241.1 L208.4 240.1 L203.3 239.2 L198.5 238.1 L194.1 237.4 L190.4 236.4 L187.2 236.0 L184.3 235.3 L181.6 234.7 L178.9 234.5 L176.0 234.3 L173.0 234.4 L170.2 234.7 L167.5 235.4 L164.6 236.1 L161.4 236.7 L157.9 237.3 L153.9 237.9 L149.4 238.2 L144.7 238.7 L139.8 239.3 L134.9 239.3 L130.0 239.4 L124.8 239.1 L119.1 238.5 L113.3 237.7 L107.9 236.9 L103.3 236.2 L100.0 235.9Z" fill="#6a3514" opacity="0.38"/>
<path d="M100.0 243.3 L103.2 244.1 L107.8 245.1 L113.2 246.3 L119.0 247.2 L124.7 248.0 L130.0 248.7 L134.9 248.6 L139.9 248.2 L144.8 247.5 L149.6 246.8 L154.1 246.3 L158.1 245.5 L161.8 245.1 L164.9 244.1 L167.8 243.3 L170.5 242.9 L173.2 242.5 L176.0 242.3 L178.8 242.5 L181.4 242.8 L184.0 243.4 L186.9 243.9 L190.1 244.6 L193.9 245.5 L198.2 246.4 L203.0 247.6 L208.1 248.9 L213.6 250.0 L219.3 251.0 L225.0 251.7 L231.3 251.7 L238.3 251.5 L245.5 251.0 L252.2 250.4 L257.9 249.8 L262.0 249.3 L262.0 249.1 L257.9 249.2 L252.2 249.5 L245.4 250.0 L238.2 250.4 L231.2 250.6 L225.0 250.3 L219.4 249.8 L213.9 248.9 L208.5 247.5 L203.3 246.3 L198.5 245.1 L194.1 244.1 L190.4 243.4 L187.2 242.5 L184.4 241.6 L181.7 241.1 L178.9 240.6 L176.0 240.5 L173.0 240.7 L170.2 241.2 L167.5 242.1 L164.6 242.8 L161.4 243.2 L157.9 244.1 L153.8 244.6 L149.4 245.6 L144.7 246.3 L139.8 246.8 L134.9 247.3 L130.0 247.3 L124.8 247.2 L119.1 246.4 L113.3 245.3 L107.9 244.4 L103.3 243.6 L100.0 243.1Z" fill="#6a3514" opacity="0.30"/>
<path d="M100.0 251.4 L103.2 252.3 L107.8 253.6 L113.1 254.9 L119.0 256.0 L124.7 257.1 L130.0 257.6 L135.0 257.5 L139.9 256.8 L144.9 255.9 L149.6 254.9 L154.1 254.0 L158.1 253.1 L161.8 252.4 L165.0 251.8 L167.8 250.7 L170.6 250.2 L173.2 249.6 L176.0 249.5 L178.8 249.7 L181.4 249.9 L184.0 250.7 L186.8 251.3 L190.1 252.1 L193.8 253.2 L198.2 254.2 L202.9 255.9 L208.1 257.5 L213.6 258.9 L219.2 259.9 L225.0 260.7 L231.3 260.5 L238.3 260.3 L245.5 259.5 L252.2 258.7 L257.9 258.0 L262.0 257.4 L262.0 257.2 L257.9 257.5 L252.2 258.1 L245.4 258.8 L238.2 259.2 L231.2 259.7 L225.0 259.3 L219.4 258.7 L213.9 257.3 L208.5 255.8 L203.4 254.3 L198.5 253.0 L194.2 251.7 L190.4 250.9 L187.2 249.9 L184.4 249.0 L181.7 248.4 L178.9 247.9 L176.0 247.7 L173.0 248.0 L170.2 248.4 L167.4 249.3 L164.5 249.9 L161.4 250.9 L157.9 251.8 L153.8 252.5 L149.4 253.7 L144.6 254.8 L139.8 255.6 L134.8 256.1 L130.0 256.4 L124.8 256.0 L119.1 255.3 L113.4 254.0 L108.0 252.7 L103.3 251.8 L100.0 251.2Z" fill="#6a3514" opacity="0.28"/>
<path d="M100.0 260.4 L103.2 261.4 L107.8 262.8 L113.1 264.4 L119.0 265.8 L124.7 267.1 L130.0 267.7 L135.0 267.5 L140.0 266.6 L144.9 265.1 L149.7 264.0 L154.1 262.7 L158.1 261.5 L161.8 260.9 L165.0 259.8 L167.8 258.8 L170.6 258.1 L173.2 257.7 L176.0 257.4 L178.7 257.8 L181.4 257.9 L183.9 258.9 L186.8 259.6 L190.1 260.5 L193.8 261.7 L198.1 262.9 L202.9 264.7 L208.1 266.7 L213.6 268.2 L219.2 269.9 L225.0 270.6 L231.3 270.5 L238.3 270.1 L245.5 269.1 L252.2 268.2 L257.9 267.1 L262.0 266.4 L262.0 266.2 L257.9 266.6 L252.1 267.3 L245.4 268.3 L238.2 269.0 L231.2 269.6 L225.0 269.4 L219.5 268.4 L213.9 267.3 L208.6 265.2 L203.4 263.5 L198.5 261.7 L194.2 260.2 L190.4 259.2 L187.3 258.1 L184.5 257.0 L181.7 256.6 L179.0 255.8 L176.0 255.8 L173.0 255.9 L170.2 256.6 L167.4 257.5 L164.5 258.3 L161.3 259.2 L157.9 260.4 L153.8 261.3 L149.3 262.6 L144.6 264.2 L139.7 265.2 L134.8 266.0 L130.0 266.3 L124.8 266.0 L119.1 265.1 L113.4 263.6 L107.9 262.2 L103.4 260.9 L100.0 260.2Z" fill="#6a3514" opacity="0.22"/>
<path d="M624.0 198.1 L626.3 198.0 L629.5 197.6 L633.1 196.8 L637.0 196.1 L640.8 195.6 L644.3 195.4 L647.4 194.4 L650.6 195.8 L653.8 195.8 L657.1 195.6 L660.3 197.2 L663.6 197.6 L666.9 197.9 L670.1 198.5 L673.7 197.9 L676.9 199.7 L680.4 199.8 L683.7 199.9 L687.0 199.5 L690.1 200.7 L693.2 200.2 L696.2 199.4 L699.2 199.5 L702.2 199.3 L705.3 198.2 L708.7 198.2 L711.8 196.5 L714.8 195.9 L717.3 195.0 L719.0 194.1 L719.0 193.9 L717.0 193.7 L714.4 193.9 L711.4 194.5 L708.0 194.0 L704.9 195.1 L701.8 194.7 L698.9 194.9 L696.1 195.3 L693.2 194.5 L690.3 194.0 L687.3 194.9 L684.3 194.1 L681.2 193.5 L678.1 192.6 L674.5 193.3 L671.3 191.4 L667.9 190.9 L664.4 190.4 L661.0 190.1 L657.6 191.0 L654.2 190.2 L650.8 189.9 L647.3 191.1 L643.7 190.6 L640.0 191.5 L636.2 192.8 L632.4 194.1 L628.9 195.4 L626.0 196.8 L624.0 197.9Z" fill="#3f1e0d" opacity="0.85"/>
<path d="M636.0 204.1 L638.0 205.2 L641.0 205.9 L644.5 207.1 L648.3 208.0 L652.2 209.1 L655.8 209.6 L659.2 209.8 L662.6 209.9 L666.0 210.4 L669.4 210.4 L672.8 210.2 L676.1 209.3 L679.6 209.6 L682.8 208.6 L686.0 207.7 L689.3 207.1 L692.6 206.4 L696.1 206.5 L699.9 206.4 L704.2 206.3 L708.7 206.7 L712.9 206.4 L716.4 206.5 L719.0 206.1 L719.0 205.9 L716.5 205.2 L713.0 204.8 L708.8 204.0 L704.3 203.8 L699.9 203.5 L695.9 203.5 L692.4 204.2 L688.9 204.5 L685.6 205.2 L682.3 205.6 L679.0 205.6 L675.9 206.7 L672.6 206.3 L669.3 206.3 L666.0 206.5 L662.7 206.9 L659.4 206.7 L656.2 206.4 L652.7 205.9 L648.8 205.6 L645.0 204.9 L641.4 204.4 L638.3 203.7 L636.0 203.9Z" fill="#3f1e0d" opacity="0.70"/>
<path d="M650.0 214.1 L652.0 215.2 L654.9 216.4 L658.5 217.4 L662.3 218.2 L666.2 219.5 L669.9 219.8 L673.4 220.5 L677.0 219.7 L680.5 219.4 L683.9 218.7 L687.2 218.5 L690.4 218.1 L693.5 218.1 L696.2 216.4 L699.0 215.9 L701.6 215.1 L703.9 214.0 L706.4 214.5 L708.7 213.4 L711.2 213.3 L713.6 212.3 L715.8 212.0 L717.7 211.8 L719.0 211.1 L719.0 210.9 L717.6 210.3 L715.7 210.3 L713.4 210.2 L710.9 209.5 L708.3 209.9 L705.6 209.5 L703.2 211.0 L700.5 211.3 L697.9 211.9 L695.3 213.0 L692.3 212.7 L689.6 213.9 L686.6 214.6 L683.4 215.4 L680.0 215.6 L676.7 216.0 L673.3 215.6 L670.1 216.2 L666.7 215.8 L662.8 215.7 L659.0 214.9 L655.5 214.1 L652.3 213.8 L650.0 213.9Z" fill="#3f1e0d" opacity="0.80"/>
<path d="M600.0 190.1 L602.2 190.2 L605.2 190.0 L608.8 189.9 L612.7 189.6 L616.5 189.4 L620.1 189.2 L623.4 188.3 L626.8 188.2 L630.1 188.0 L633.4 187.5 L636.7 187.2 L640.0 187.3 L643.5 186.9 L647.3 187.3 L651.2 187.7 L654.7 187.8 L657.8 188.1 L660.0 188.1 L660.0 187.9 L657.9 187.3 L654.9 186.8 L651.3 186.1 L647.5 185.6 L643.6 185.3 L640.0 184.7 L636.6 185.1 L633.2 185.2 L629.9 185.5 L626.5 186.2 L623.2 186.9 L619.9 186.8 L616.3 187.3 L612.5 187.9 L608.7 188.4 L605.1 189.0 L602.1 189.4 L600.0 189.9Z" fill="#3f1e0d" opacity="0.50"/>
<path d="M506.0 183.1 L507.6 183.8 L509.9 184.6 L512.7 185.3 L515.7 186.3 L518.9 186.7 L521.9 187.6 L524.8 187.7 L527.9 187.6 L531.0 187.7 L534.1 187.5 L537.1 187.1 L540.0 186.9 L543.0 187.0 L546.2 187.0 L549.2 186.4 L552.0 186.2 L554.3 185.7 L556.0 185.1 L556.0 184.9 L554.2 184.6 L551.9 184.4 L549.1 184.6 L546.0 184.4 L542.9 184.8 L540.0 185.1 L537.1 185.1 L534.0 184.9 L531.0 184.8 L527.9 184.9 L525.0 184.7 L522.1 184.4 L519.2 184.6 L516.2 183.9 L513.0 183.7 L510.2 183.2 L507.8 182.9 L506.0 182.9Z" fill="#3f1e0d" opacity="0.70"/>
<path d="M480.0 176.1 L482.1 176.8 L485.1 177.3 L488.7 177.8 L492.5 178.4 L496.4 178.9 L500.0 178.9 L503.6 178.8 L507.4 178.7 L511.3 178.3 L514.9 178.1 L517.9 177.7 L520.0 177.1 L520.0 176.9 L517.8 176.6 L514.8 176.6 L511.2 176.9 L507.4 177.0 L503.5 177.2 L500.0 177.1 L496.5 176.8 L492.7 176.5 L488.8 176.4 L485.3 175.9 L482.2 175.7 L480.0 175.9Z" fill="#3f1e0d" opacity="0.45"/>
<path d="M552.0 168.1 L554.7 168.0 L558.2 167.5 L562.5 167.0 L567.1 166.2 L571.8 165.8 L576.1 164.8 L580.4 164.8 L584.6 163.8 L589.0 163.6 L593.3 162.7 L597.8 162.6 L602.1 162.2 L606.7 161.2 L611.7 160.9 L616.7 160.2 L621.3 159.3 L625.2 158.9 L628.0 158.1 L628.0 157.9 L625.1 157.8 L621.2 158.3 L616.5 158.4 L611.5 158.9 L606.5 159.7 L601.9 159.8 L597.5 160.3 L593.2 161.2 L588.7 161.2 L584.4 162.1 L580.1 162.1 L575.9 163.2 L571.4 163.5 L566.8 164.6 L562.2 165.3 L558.1 166.4 L554.5 167.1 L552.0 167.9Z" fill="#3f1e0d" opacity="0.60"/>
<path d="M600.0 176.1 L603.3 175.8 L607.8 175.0 L613.1 174.1 L618.8 173.1 L624.6 172.4 L630.1 171.8 L635.3 171.6 L640.6 171.6 L646.0 171.6 L651.4 171.6 L656.7 172.0 L662.0 172.1 L667.4 172.0 L673.2 172.2 L678.9 172.8 L684.2 173.0 L688.7 173.2 L692.0 173.1 L692.0 172.9 L688.8 172.3 L684.3 171.8 L679.1 171.2 L673.3 171.0 L667.5 170.4 L662.0 169.9 L656.8 169.7 L651.4 169.7 L646.0 169.6 L640.6 169.6 L635.2 169.8 L629.9 170.2 L624.4 170.8 L618.6 171.9 L612.9 172.9 L607.6 174.0 L603.2 175.0 L600.0 175.9Z" fill="#3f1e0d" opacity="0.50"/>
<path d="M520.0 152.1 L525.4 151.8 L532.6 151.3 L541.3 150.7 L550.8 149.7 L560.6 149.3 L570.0 148.8 L579.3 148.6 L588.9 148.5 L598.7 148.6 L608.9 148.4 L619.3 148.7 L630.0 148.6 L641.9 148.9 L655.2 149.5 L668.7 150.2 L681.5 150.6 L692.2 151.1 L700.0 151.1 L700.0 150.9 L692.3 150.2 L681.5 149.6 L668.8 148.8 L655.2 148.3 L641.9 147.8 L630.0 147.4 L619.3 146.8 L608.9 146.9 L598.8 146.5 L588.9 146.7 L579.3 146.8 L570.0 147.2 L560.5 147.7 L550.7 148.6 L541.2 149.3 L532.5 150.4 L525.3 151.2 L520.0 151.9Z" fill="#3f1e0d" opacity="0.40"/>
<path d="M490.0 204.1 L494.3 205.0 L500.3 206.0 L507.4 207.2 L515.1 208.1 L522.8 209.4 L530.0 209.8 L536.7 209.9 L543.6 210.3 L550.4 209.8 L557.2 209.9 L563.7 209.5 L570.1 208.8 L576.2 208.2 L582.1 207.6 L587.8 206.5 L593.3 205.4 L598.7 204.4 L604.1 203.8 L609.7 203.0 L615.5 202.2 L621.2 201.6 L626.4 201.2 L630.8 200.6 L634.0 200.1 L634.0 199.9 L630.8 200.0 L626.3 200.2 L621.1 200.8 L615.4 201.2 L609.5 201.7 L603.9 202.2 L598.5 203.2 L593.1 203.9 L587.5 204.8 L581.8 205.5 L576.0 206.6 L569.9 207.2 L563.6 207.5 L557.1 207.8 L550.4 208.5 L543.5 208.2 L536.7 208.5 L530.0 208.2 L523.0 207.6 L515.2 207.1 L507.6 205.9 L500.4 205.0 L494.4 204.3 L490.0 203.9Z" fill="#3f1e0d" opacity="0.50"/>
<path d="M500.0 226.1 L504.2 227.0 L509.9 228.1 L516.8 229.3 L524.4 230.3 L532.2 231.2 L540.0 231.7 L547.9 231.9 L556.3 231.7 L565.0 231.6 L573.8 231.0 L582.2 230.3 L590.1 230.0 L597.2 229.3 L603.8 228.7 L610.1 228.0 L616.4 227.0 L622.9 226.3 L630.0 225.5 L638.4 225.2 L647.8 225.0 L657.5 224.9 L666.7 224.7 L674.4 224.5 L680.0 224.1 L680.0 223.9 L674.4 223.7 L666.7 223.6 L657.5 223.6 L647.8 223.8 L638.3 224.1 L630.0 224.5 L622.8 224.7 L616.2 225.4 L609.9 225.9 L603.6 226.7 L597.1 227.6 L589.9 228.0 L582.1 228.8 L573.6 229.1 L565.0 229.5 L556.3 230.1 L547.9 230.3 L540.0 230.3 L532.4 229.8 L524.5 229.0 L517.0 228.0 L510.1 227.0 L504.3 226.2 L500.0 225.9Z" fill="#3f1e0d" opacity="0.45"/>
<path d="M490.0 246.1 L495.3 246.9 L502.5 247.7 L511.2 248.6 L520.7 249.7 L530.5 250.4 L540.0 251.0 L549.6 250.6 L559.7 250.3 L570.0 249.8 L580.4 249.0 L590.5 248.5 L600.1 247.9 L608.8 247.1 L617.1 246.6 L625.0 245.9 L632.9 245.2 L641.1 244.3 L650.0 243.8 L660.4 243.3 L672.1 243.0 L684.1 242.7 L695.5 242.6 L705.1 242.4 L712.0 242.1 L712.0 241.9 L705.1 241.8 L695.5 241.7 L684.1 241.8 L672.1 241.9 L660.3 242.0 L650.0 242.2 L641.0 242.7 L632.7 243.1 L624.8 243.9 L616.9 244.7 L608.7 245.6 L599.9 246.1 L590.4 246.8 L580.3 247.6 L570.0 248.2 L559.6 248.8 L549.5 249.2 L540.0 249.0 L530.5 249.0 L520.8 248.3 L511.3 247.7 L502.6 246.9 L495.4 246.2 L490.0 245.9Z" fill="#3f1e0d" opacity="0.45"/>
<path d="M560.0 238.1 L564.3 238.8 L570.3 239.3 L577.5 240.0 L585.1 240.5 L592.8 241.0 L600.0 241.1 L607.2 240.3 L614.9 239.6 L622.6 238.8 L629.7 237.8 L635.7 237.0 L640.0 236.1 L640.0 235.9 L635.6 236.0 L629.6 236.8 L622.4 237.5 L614.8 238.3 L607.1 239.0 L600.0 238.9 L592.9 239.0 L585.2 238.9 L577.5 238.5 L570.4 238.2 L564.4 237.8 L560.0 237.9Z" fill="#3f1e0d" opacity="0.40"/>
<path d="M590.0 258.1 L595.3 259.1 L602.5 259.9 L611.2 260.8 L620.7 261.8 L630.5 262.6 L640.0 262.9 L650.1 262.5 L661.5 261.9 L673.2 261.0 L684.1 259.9 L693.4 258.9 L700.0 258.1 L700.0 257.9 L693.3 258.2 L684.0 258.8 L673.1 259.5 L661.4 260.4 L650.1 261.0 L640.0 261.1 L630.5 260.9 L620.8 260.4 L611.3 259.7 L602.7 258.8 L595.4 258.0 L590.0 257.9Z" fill="#3f1e0d" opacity="0.40"/>
<ellipse cx="674.5" cy="228.5" rx="5.5" ry="2.8" fill="none" stroke="#4a2410" stroke-width="1.1" opacity="0.65"/>
<ellipse cx="674.5" cy="228.5" rx="2.2" ry="1" fill="#4a2410" opacity="0.45"/>
</g>
      <!-- edge shading -->
      <path d="M81 138 L85.5 274" stroke="#8a4a1f" stroke-width="3" opacity="0.5" filter="url(#soft)"/>
      <path d="M720 138 L716 274" stroke="#8a4a1f" stroke-width="3" opacity="0.45" filter="url(#soft)"/>
      <path d="M86 274.5 H716" stroke="#7f421a" stroke-width="2" opacity="0.55" filter="url(#soft)"/>
      <path d="M82 138 H719" stroke="#d18a4a" stroke-width="2.2" opacity="0.5" filter="url(#soft)"/>
    </g>
    <!-- PANEL -->

    <g id="panel" opacity="0.998">
      <rect x="321.2" y="210" width="154.4" height="53.6" rx="3" fill="#0e0d0d"/>
      <!-- panel screws -->
      <g fill="#1d1c1c" stroke="#4a4a4a" stroke-width="0.9">
        <circle cx="326.2" cy="213.4" r="1.9"/><circle cx="326" cy="258.2" r="1.9"/>
        <circle cx="398.2" cy="214" r="1.9"/><circle cx="398" cy="258.6" r="1.9"/>
        <circle cx="470.6" cy="215.6" r="2"/><circle cx="470.4" cy="260" r="2"/>
      </g>
      <!-- power switch -->
      <text x="341.2" y="223.8" font-size="3.6" class="b" style="fill:#d8d8d8">ON</text>
      <rect x="338" y="227" width="13.2" height="17.6" rx="0.8" fill="#2f2f30" stroke="#454547" stroke-width="0.6"/>
      <rect x="341" y="229.2" width="7.2" height="13" fill="#252526"/>
      <path d="M344.6 231 V234.4" stroke="#cfcfcf" stroke-width="0.8"/>
      <ellipse cx="344.6" cy="238.8" rx="1.3" ry="1.8" fill="none" stroke="#bdbdbd" stroke-width="0.7"/>
      <!-- AC socket -->
      <text x="358.4" y="216.8" font-size="2.6" class="b" textLength="12.4" lengthAdjust="spacingAndGlyphs" style="fill:#cfcfcf">AC100-240V</text>
      <text x="359.4" y="220" font-size="2.6" class="b" textLength="10.4" lengthAdjust="spacingAndGlyphs" style="fill:#cfcfcf">50Hz/60Hz</text>
      <circle cx="364.6" cy="223.2" r="1.9" fill="#2a2a2a" stroke="#9a9a9a" stroke-width="0.7"/>
      <circle cx="364.6" cy="249.4" r="1.9" fill="#2a2a2a" stroke="#9a9a9a" stroke-width="0.7"/>
      <path d="M364.6 227 C368.4 227 370 229.4 370 232 C370 234.4 368.6 235.2 368.6 236.3 C368.6 237.4 370 238.2 370 240.6 C370 243.2 368.4 245.6 364.6 245.6 C360.8 245.6 359.2 243.2 359.2 240.6 C359.2 238.2 360.6 237.4 360.6 236.3 C360.6 235.2 359.2 234.4 359.2 232 C359.2 229.4 360.8 227 364.6 227 Z" fill="#151515" stroke="#e8e8e8" stroke-width="1"/>
      <path d="M363.6 230.8 L366 232.3 L363.6 233.8 Z M363.6 238.8 L366 240.3 L363.6 241.8 Z" fill="#f0f0f0"/>
      <!-- antenna connector -->
      <rect x="428.8" y="226.6" width="3.4" height="4.6" fill="#bdbdbd"/>
      <circle cx="430.2" cy="237" r="4.6" fill="#5a5a58" stroke="#9c9c98" stroke-width="0.9"/>
      <rect x="428.6" y="234.2" width="3.2" height="5.4" fill="#d9d9d6"/>
      <circle cx="430.2" cy="246.4" r="2" fill="#3a3a3a" stroke="#8a8a8a" stroke-width="0.7"/>
      <!-- audio block -->
      <rect x="440.6" y="223" width="21.4" height="28" fill="none" stroke="#5d5d5d" stroke-width="0.6"/>
      <text x="447.6" y="224.2" font-size="2.8" class="b" style="fill:#cfcfcf">INPUT</text>
      <g fill="#2a2a2a" stroke="#8a8a8a" stroke-width="0.7">
        <circle cx="441.4" cy="230.6" r="1.5"/><circle cx="441.4" cy="243.8" r="1.5"/>
        <circle cx="445.2" cy="237.4" r="2"/><circle cx="457.8" cy="237.4" r="2"/>
      </g>
      <circle cx="451.3" cy="231.3" r="3.3" fill="#f2efec" stroke="#b8362f" stroke-width="1.5"/>
      <circle cx="451.3" cy="231.3" r="1" fill="#3a2a28"/>
      <circle cx="451.3" cy="244.4" r="3.3" fill="#ffffff" stroke="#e9e9e9" stroke-width="1.5"/>
      <circle cx="451.3" cy="244.4" r="1" fill="#444444"/>
      <rect x="437" y="220.2" width="27.6" height="34.4" fill="none" stroke="#4c92ab" stroke-width="2"/>
      <!-- certification marks -->
      <text x="428.8" y="261.2" font-size="4" class="b" textLength="30" lengthAdjust="spacingAndGlyphs" style="fill:#e0e0e0">CE FC &#9851; &#9744;</text>
    </g>
  </g>

  <!-- ================= TOP LABELS ================= -->
  <g id="toplabels" opacity="0.996">
    <!-- TOP-LABELS -->

    <text x="233.8" y="62.7" class="b" font-size="17" textLength="112.5" lengthAdjust="spacingAndGlyphs">Power supply</text>
    <text x="466.2" y="63.2" class="b" font-size="17" textLength="135.8" lengthAdjust="spacingAndGlyphs">FM/AM antenna</text>
    <text x="255.6" y="319.8" class="b" font-size="17" textLength="114.7" lengthAdjust="spacingAndGlyphs">Power button</text>
    <text x="249.8" y="335.4" font-size="18" stroke="#0e0e0e" stroke-width="0.35" textLength="125.4" lengthAdjust="spacingAndGlyphs">with spare fuse</text>
    <text x="431.3" y="319.8" class="b" font-size="17" textLength="97.7" lengthAdjust="spacingAndGlyphs">Audio input</text>
    <!-- leader lines -->
    <path class="teal" stroke-width="2.3" d="M353.8 56.3 H376.3 V233.8 H369.4"/>
    <path class="teal" stroke-width="2.3" d="M454.5 56.7 H431.6 V126"/>
    <path d="M431.4 126 V229" stroke="#d9d6d2" stroke-width="1.3" fill="none"/>
    <path class="teal" stroke-width="2" d="M343.5 245.6 V300 M341 250.3 H346"/>
    <path class="teal" stroke-width="2" d="M449.8 255 V303"/>
    <g clip-path="url(#panelClip)" style="stroke:#5b9bb3" fill="none">
      <path stroke-width="2.3" d="M376.3 200 V233.8 H369.4"/>
      <path stroke-width="2" d="M343.5 245.6 V300 M341 250.3 H346"/>
      <path stroke-width="2" d="M449.8 255 V303"/>
    </g>
  </g>

  <!-- ================= REMOTE ================= -->
  <g id="remote">
    <!-- REMOTE -->

    <!-- body -->
    <path d="M214 802 V454 Q214 436.5 231.5 436.5 H309 Q326.5 436.5 326.5 454 V802 Z" fill="#1b1918"/>
    <path d="M215.2 802 V454 Q215.2 437.7 231.5 437.7 H309 Q325.3 437.7 325.3 454 V802" fill="none" stroke="#0f0e0e" stroke-width="2.4"/>
    <!-- power button -->
    <circle cx="241.9" cy="461.7" r="10.2" fill="#c9262b"/>
    <circle cx="241.9" cy="461.7" r="9.4" fill="none" stroke="#e2575a" stroke-width="0.9"/>
    <path d="M238.7 456.6 A6.2 6.2 0 1 0 245.1 456.6" fill="none" stroke="#f6b9b3" stroke-width="1.5" stroke-linecap="round"/>
    <path d="M241.9 455.6 V462.6" fill="none" stroke="#fbe3dd" stroke-width="1.5" stroke-linecap="round"/>
    <!-- mode button -->
    <circle cx="242.4" cy="495.5" r="15.3" fill="#1a1817" stroke="#4d4a48" stroke-width="1.1"/>
    <text x="231.1" y="499" class="b" font-size="9.6" textLength="21.4" lengthAdjust="spacingAndGlyphs" style="fill:#e6e2dd">MODE</text>
    <!-- siri button -->
    <circle cx="295" cy="495.2" r="15.2" fill="#1a1817" stroke="#4d4a48" stroke-width="1.1"/>
    <g fill="none" stroke="#e4e0db" stroke-linecap="round" stroke-linejoin="round">
      <circle cx="295.4" cy="495.1" r="8.5" stroke-width="1.1" stroke="#cfcbc6"/>
      <path d="M293.4 487.8 Q295.6 489.4 295.4 491.4 Q296.6 493.4 297.2 495 Q296 496 295.2 496.8 Q296 499 295 500.2 Q293.8 501.2 293.6 502.6" stroke-width="1.3"/>
      <path d="M289.6 496.6 Q291.6 496.4 293.2 498.4 Q292.4 500 290.8 499.8" stroke-width="1.4"/>
      <path d="M298.1 494.8 V498.2 M299.7 494.2 V498.8 M301.3 494.8 V498.2" stroke-width="0.8"/>
    </g>
    <!-- d-pad -->
    <circle cx="268" cy="560.3" r="44" fill="#191716" stroke="#4a4745" stroke-width="1.1"/>
    <circle cx="268" cy="560.3" r="18.3" fill="#1b1918" stroke="#4a4745" stroke-width="1.1"/>
    <!-- vol + icon -->
    <g fill="#ece8e3" stroke="none">
      <rect x="260.2" y="527.2" width="3" height="5.4"/>
      <path d="M264 527.2 L267.6 524.4 V535.4 L264 532.6 Z" fill="none" stroke="#ece8e3" stroke-width="0.9"/>
      <path d="M269.6 529.4 H274.6 V530.6 H269.6 Z M271.5 527.5 H272.7 V532.5 H271.5 Z"/>
    </g>
    <!-- vol - icon -->
    <g fill="#ece8e3" stroke="none">
      <rect x="261" y="587.3" width="3" height="5.4"/>
      <path d="M264.8 587.3 L268.4 584.5 V595.5 L264.8 592.7 Z" fill="none" stroke="#ece8e3" stroke-width="0.9"/>
      <rect x="270.6" y="589.4" width="4" height="1.2"/>
    </g>
    <!-- mute icon -->
    <g fill="#ece8e3" stroke="none">
      <rect x="260.6" y="557" width="3" height="5.6"/>
      <path d="M264 557 L267.8 554 V565.6 L264 562.6 Z"/>
      <path d="M270.4 557.2 L275 562.4 M275 557.2 L270.4 562.4" stroke="#ece8e3" stroke-width="1" fill="none"/>
    </g>
    <!-- prev icon -->
    <g fill="#ece8e3">
      <rect x="233.6" y="556.6" width="1.3" height="6"/>
      <path d="M239.2 556.6 V562.6 L234.9 559.6 Z M243.8 556.6 V562.6 L239.5 559.6 Z"/>
    </g>
    <!-- next icon -->
    <g fill="#ece8e3">
      <rect x="303.4" y="556.6" width="1.3" height="6"/>
      <path d="M294.6 556.6 V562.6 L298.9 559.6 Z M299.1 556.6 V562.6 L303.4 559.6 Z"/>
    </g>
    <!-- volume pill -->
    <rect x="226.6" y="613" width="84.4" height="28.8" rx="14.4" fill="#1a1817" stroke="#4a4745" stroke-width="1.1"/>
    <rect x="236.2" y="627.3" width="3.2" height="1" fill="#d8d4cf"/>
    <path d="M296 627.8 H300.4 M298.2 625.6 V630" stroke="#d8d4cf" stroke-width="1.1" fill="none"/>
    <g fill="#e6e2dd">
      <rect x="252.6" y="630.2" width="2.2" height="1.2"/>
      <rect x="255.8" y="630.5" width="1.3" height="1.4"/>
      <rect x="258.4" y="629.4" width="1.3" height="2"/>
      <rect x="261" y="628.6" width="1.3" height="2.8"/>
      <rect x="263.6" y="627.8" width="1.3" height="3.6"/>
      <rect x="266.2" y="627" width="1.3" height="4.4"/>
      <rect x="268.9" y="626.2" width="1.3" height="5.2"/>
      <rect x="271.6" y="625.4" width="1.4" height="6"/>
      <rect x="274.4" y="624.6" width="1.4" height="6.8"/>
      <rect x="277.3" y="624" width="1.5" height="7.4"/>
      <rect x="280.2" y="623.6" width="1.5" height="7.8"/>
    </g>
    <!-- answer button -->
    <circle cx="242.6" cy="663" r="15.3" fill="#1a1817" stroke="#4d4a48" stroke-width="1.1"/>
    <path d="M234.8 666.2 Q234.2 662.4 237.8 661 Q242.6 659.4 247.4 661 Q251 662.4 250.4 666.2 L246.6 665.8 L246.2 663.6 Q242.6 662.6 239 663.6 L238.6 665.8 Z" fill="#f1e8e4"/>
    <!-- hang-up button -->
    <circle cx="295.4" cy="663" r="15.3" fill="#1a1817" stroke="#4d4a48" stroke-width="1.1"/>
    <g transform="rotate(47 294 665.4)">
      <path d="M286 668.6 Q285.4 664.8 289 663.4 Q294 661.8 299 663.4 Q302.6 664.8 302 668.6 L298.2 668.2 L297.8 666 Q294 665 290.2 666 L289.8 668.2 Z" fill="#f1e8e4"/>
    </g>
    <!-- light button -->
    <circle cx="268.4" cy="695.8" r="17.8" fill="#1a1817" stroke="#4d4a48" stroke-width="1.1"/>
    <g fill="none" stroke="#f1ede8" stroke-linecap="round">
      <circle cx="268" cy="695.2" r="4" stroke-width="1.5"/>
      <path d="M266 699 H270.2 L269.8 703.6 H266.4 Z" fill="#f6f2ee" stroke-width="0.6"/>
      <path d="M268 686.8 V689.2 M262 688.6 L263.6 690.6 M274 688.6 L272.4 690.6 M259.2 693.4 L261.6 694 M276.8 693.4 L274.4 694 M259.8 699 L262 697.8 M276.2 699 L274 697.8" stroke-width="1.4"/>
    </g>
  </g>

  <!-- ================= REMOTE LABELS ================= -->
  <g id="remotelabels" opacity="0.996">
    <!-- REMOTE-LABELS -->

    <text x="84.2" y="503.3" font-size="17.4" textLength="50.8" lengthAdjust="spacingAndGlyphs">MODE</text>
    <text x="90.0" y="565.5" font-size="17.4" textLength="40.5" lengthAdjust="spacingAndGlyphs">PREV</text>
    <text x="38.3" y="605.5" font-size="17.4" textLength="96.2" lengthAdjust="spacingAndGlyphs">Play / Pause</text>
    <text x="62.5" y="626.2" font-size="17.4" textLength="48.8" lengthAdjust="spacingAndGlyphs">/Mute</text>
    <text x="80" y="669.5" font-size="17.4" textLength="57.5" lengthAdjust="spacingAndGlyphs">Answer</text>
    <text x="42.0" y="745.8" font-size="17.4" textLength="95.5" lengthAdjust="spacingAndGlyphs">Button light</text>
    <text x="383.3" y="464.5" font-size="17.4" textLength="104.7" lengthAdjust="spacingAndGlyphs">Power on/off</text>
    <text x="385.4" y="500.5" font-size="17.4" textLength="134" lengthAdjust="spacingAndGlyphs">Siri /Voice activate</text>
    <text x="385.4" y="537" font-size="17.4" textLength="75.6" lengthAdjust="spacingAndGlyphs">Volume +</text>
    <text x="385.4" y="565" font-size="17.4" textLength="43.2" lengthAdjust="spacingAndGlyphs">NEXT</text>
    <text x="386" y="596" font-size="17.4" textLength="72.6" lengthAdjust="spacingAndGlyphs">Volume -</text>
    <text x="386.3" y="667.6" font-size="17.4" textLength="69.2" lengthAdjust="spacingAndGlyphs">Hang up</text>
    <!-- leader lines -->
    <g class="red" stroke-width="2.2">
      <path d="M144.2 497 H227.5"/>
      <path d="M141.2 560 H226"/>
      <path d="M142 599.6 H234 L263.5 564"/>
      <path d="M144.2 664.2 H229"/>
      <path d="M144.2 740 H244.4 L268 704"/>
      <path d="M252 460.4 H373.4"/>
      <path d="M310.5 494.6 H373.4"/>
      <path d="M279 531.4 H373.4"/>
      <path d="M309 560 H373.4"/>
      <path d="M278 590 H373.4"/>
      <path d="M303 663.4 H373.4"/>
    </g>
    <g class="red" stroke-width="2.3" clip-path="url(#remoteClip)" style="stroke:#b8373d">
      <path d="M144.2 497 H227.5"/>
      <path d="M141.2 560 H226"/>
      <path d="M142 599.6 H234 L263.5 564"/>
      <path d="M144.2 664.2 H229"/>
      <path d="M144.2 740 H244.4 L268 704"/>
      <path d="M252 460.4 H373.4"/>
      <path d="M310.5 494.6 H373.4"/>
      <path d="M279 531.4 H373.4"/>
      <path d="M309 560 H373.4"/>
      <path d="M278 590 H373.4"/>
      <path d="M303 663.4 H373.4"/>
    </g>
  </g>

  <!-- ================= CAUTION BOX ================= -->
  <g id="caution" opacity="0.996">
    <!-- CAUTION -->

    <path class="red" stroke-width="2.7" d="M511.4 459.5 H650.2 V531"/>
    <rect x="563.4" y="537.4" width="180" height="213" rx="7" fill="#dfe6e8" opacity="0.7" filter="url(#soft)"/>
    <rect x="562.8" y="536.2" width="180.2" height="213" rx="7" fill="#ffffff" stroke="#4e9fb6" stroke-width="1.4"/>
    <text x="565" y="562.8" class="b" font-size="17.2" textLength="166.4" lengthAdjust="spacingAndGlyphs" style="fill:#9c1f2b">Caution / Suggestion</text>
    <g class="b" font-size="17">
      <text x="568.2" y="588.3" textLength="158.3" lengthAdjust="spacingAndGlyphs">To make the player</text>
      <text x="568.2" y="609.4" textLength="164.2" lengthAdjust="spacingAndGlyphs">has a memory while</text>
      <text x="568.2" y="630.5" textLength="170.6" lengthAdjust="spacingAndGlyphs">power off.Please use</text>
      <text x="568.2" y="651.6" textLength="175" lengthAdjust="spacingAndGlyphs">the power key on the</text>
      <text x="568.2" y="672.9" textLength="171.3" lengthAdjust="spacingAndGlyphs">remote to power on/</text>
      <text x="568.2" y="693.8" textLength="168.3" lengthAdjust="spacingAndGlyphs">off instead of power</text>
      <text x="568.2" y="714.8" textLength="166.8" lengthAdjust="spacingAndGlyphs">on/off by the power</text>
      <text x="568.2" y="735.6" textLength="112.8" lengthAdjust="spacingAndGlyphs">button on the</text>
    </g>
    <text x="687" y="737.2" font-size="18" stroke="#0e0e0e" stroke-width="0.3" textLength="37.5" lengthAdjust="spacingAndGlyphs">back</text>
  </g>
</svg>
</body>
</html>
